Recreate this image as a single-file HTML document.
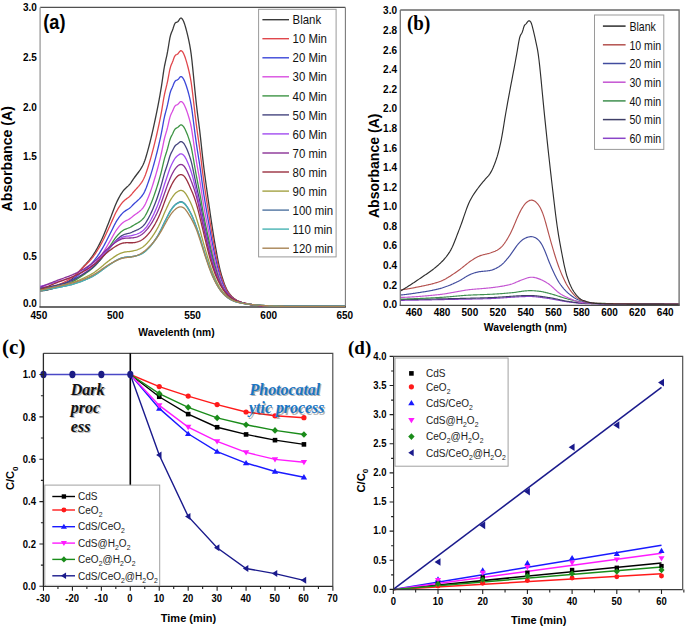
<!DOCTYPE html>
<html><head><meta charset="utf-8"><style>
html,body{margin:0;padding:0;background:#fff;}
svg{display:block;}
</style></head><body>
<svg width="685" height="628" viewBox="0 0 685 628">
<rect width="685" height="628" fill="#fff"/>
<rect x="40.1" y="7.4" width="305.29999999999995" height="299.6" fill="#fff"/>
<path d="M40.1 7.4H345.4" stroke="#505050" stroke-width="1.4" fill="none"/>
<path d="M345.4 7.4V307.0" stroke="#7a7a7a" stroke-width="1.1" fill="none"/>
<path d="M40.1 7.4V307.0" stroke="#a8a8a8" stroke-width="1.5" fill="none"/>
<path d="M39.4 307.0H345.9" stroke="#3a3a3a" stroke-width="1.6" fill="none"/>
<path d="M40.40 291.00L41.16 290.95L41.92 290.88L42.68 290.79L43.45 290.69L44.21 290.58L44.97 290.45L45.73 290.31L46.49 290.16L47.25 290.00L48.02 289.83L48.78 289.65L49.54 289.46L50.30 289.27L51.06 289.06L51.82 288.85L52.58 288.64L53.35 288.42L54.11 288.19L54.87 287.96L55.63 287.73L56.39 287.49L57.15 287.23L57.91 286.95L58.68 286.65L59.44 286.34L60.20 286.01L60.96 285.66L61.72 285.30L62.48 284.92L63.24 284.52L64.01 284.11L64.77 283.69L65.53 283.25L66.29 282.79L67.05 282.33L67.81 281.85L68.58 281.35L69.34 280.84L70.10 280.32L70.86 279.78L71.62 279.21L72.38 278.58L73.14 277.91L73.91 277.20L74.67 276.44L75.43 275.65L76.19 274.83L76.95 273.99L77.71 273.14L78.47 272.27L79.24 271.40L80.00 270.53L80.76 269.66L81.52 268.81L82.28 267.96L83.04 267.13L83.81 266.31L84.57 265.49L85.33 264.66L86.09 263.83L86.85 262.98L87.61 262.12L88.37 261.24L89.14 260.34L89.90 259.41L90.66 258.44L91.42 257.44L92.18 256.40L92.94 255.31L93.70 254.17L94.47 252.97L95.23 251.73L95.99 250.44L96.75 249.10L97.51 247.73L98.27 246.31L99.04 244.86L99.80 243.37L100.56 241.85L101.32 240.29L102.08 238.68L102.84 236.99L103.60 235.25L104.37 233.44L105.13 231.58L105.89 229.69L106.65 227.77L107.41 225.84L108.17 223.90L108.94 221.97L109.70 220.05L110.46 218.10L111.22 216.12L111.98 214.08L112.74 212.03L113.50 209.98L114.27 207.96L115.03 206.02L115.79 204.18L116.55 202.46L117.31 200.86L118.07 199.34L118.83 197.90L119.60 196.51L120.36 195.19L121.12 193.93L121.88 192.76L122.64 191.67L123.40 190.67L124.16 189.77L124.93 188.96L125.69 188.22L126.45 187.52L127.21 186.83L127.97 186.13L128.73 185.38L129.50 184.55L130.26 183.63L131.02 182.59L131.78 181.47L132.54 180.32L133.30 179.17L134.06 178.06L134.83 177.00L135.59 175.99L136.35 174.99L137.11 174.01L137.87 173.02L138.63 172.00L139.39 170.95L140.16 169.83L140.92 168.65L141.68 167.38L142.44 166.00L143.20 164.47L143.96 162.74L144.73 160.74L145.49 158.47L146.25 155.98L147.01 153.34L147.77 150.62L148.53 147.83L149.29 144.98L150.06 142.02L150.82 138.94L151.58 135.75L152.34 132.46L153.10 129.07L153.86 125.61L154.62 122.09L155.39 118.51L156.15 114.86L156.91 111.13L157.67 107.29L158.43 103.35L159.19 99.27L159.96 95.05L160.72 90.66L161.48 86.02L162.24 80.99L163.00 75.62L163.76 70.44L164.52 66.00L165.29 62.29L166.05 58.95L166.81 55.55L167.57 51.70L168.33 47.24L169.09 42.51L169.85 38.20L170.62 34.97L171.38 32.82L172.14 31.07L172.90 29.01L173.66 26.63L174.42 24.45L175.19 23.02L175.95 22.43L176.71 22.25L177.47 22.00L178.23 21.31L178.99 20.16L179.75 18.91L180.52 18.10L181.28 18.03L182.04 18.65L182.80 19.76L183.56 21.29L184.32 23.27L185.09 25.65L185.85 28.27L186.61 31.08L187.37 34.11L188.13 37.38L188.89 40.90L189.65 44.73L190.42 49.05L191.18 54.21L191.94 60.52L192.70 67.82L193.46 75.51L194.22 83.25L194.98 90.92L195.75 98.33L196.51 105.27L197.27 111.66L198.03 117.61L198.79 123.42L199.55 129.41L200.31 135.88L201.08 142.89L201.84 150.13L202.60 157.13L203.36 163.65L204.12 169.78L204.88 175.62L205.65 181.27L206.41 186.77L207.17 192.18L207.93 197.54L208.69 202.88L209.45 208.20L210.21 213.50L210.98 218.74L211.74 223.88L212.50 228.88L213.26 233.72L214.02 238.36L214.78 242.82L215.54 247.16L216.31 251.42L217.07 255.57L217.83 259.56L218.59 263.34L219.35 266.85L220.11 270.05L220.88 272.93L221.64 275.57L222.40 278.05L223.16 280.40L223.92 282.61L224.68 284.68L225.44 286.58L226.21 288.30L226.97 289.82L227.73 291.15L228.49 292.31L229.25 293.36L230.01 294.33L230.78 295.24L231.54 296.09L232.30 296.87L233.06 297.58L233.82 298.24L234.58 298.83L235.34 299.36L236.11 299.84L236.87 300.27L237.63 300.66L238.39 301.02L239.15 301.36L239.91 301.67L240.67 301.97L241.44 302.25L242.20 302.51L242.96 302.75L243.72 302.98L244.48 303.20L245.24 303.41L246.00 303.60L246.77 303.80L247.53 303.98L248.29 304.16L249.05 304.33L249.81 304.49L250.57 304.64L251.34 304.77L252.10 304.89L252.86 305.00L253.62 305.09L254.38 305.17L255.14 305.25L255.90 305.32L256.67 305.40L257.43 305.47L258.19 305.53L258.95 305.60L259.71 305.66L260.47 305.72L261.23 305.78L262.00 305.83L262.76 305.87L263.52 305.92L264.28 305.96L265.04 305.99L265.80 306.02L266.57 306.04L267.33 306.06L268.09 306.08L268.85 306.09L269.61 306.09L270.37 306.10L271.13 306.10L271.90 306.11L272.66 306.11L273.42 306.12L274.18 306.12L274.94 306.12L275.70 306.13L276.46 306.13L277.23 306.14L277.99 306.14L278.75 306.14L279.51 306.15L280.27 306.15L281.03 306.16L281.80 306.16L282.56 306.16L283.32 306.17L284.08 306.17L284.84 306.17L285.60 306.18L286.36 306.18L287.13 306.18L287.89 306.19L288.65 306.19L289.41 306.19L290.17 306.20L290.93 306.20L291.69 306.20L292.46 306.20L293.22 306.21L293.98 306.21L294.74 306.21L295.50 306.21L296.26 306.22L297.03 306.22L297.79 306.22L298.55 306.22L299.31 306.23L300.07 306.23L300.83 306.23L301.59 306.23L302.36 306.24L303.12 306.24L303.88 306.24L304.64 306.24L305.40 306.24L306.16 306.25L306.92 306.25L307.69 306.25L308.45 306.25L309.21 306.25L309.97 306.25L310.73 306.26L311.49 306.26L312.26 306.26L313.02 306.26L313.78 306.26L314.54 306.26L315.30 306.26L316.06 306.27L316.82 306.27L317.59 306.27L318.35 306.27L319.11 306.27L319.87 306.27L320.63 306.27L321.39 306.27L322.15 306.27L322.92 306.27L323.68 306.28L324.44 306.28L325.20 306.28L325.96 306.28L326.72 306.28L327.49 306.28L328.25 306.28L329.01 306.28L329.77 306.28L330.53 306.28L331.29 306.28L332.05 306.28L332.82 306.28L333.58 306.28L334.34 306.28L335.10 306.28L335.86 306.28L336.62 306.28L337.38 306.29L338.15 306.29L338.91 306.29L339.67 306.29L340.43 306.29L341.19 306.29L341.95 306.29L342.72 306.29L343.48 306.29L344.24 306.29L345.00 306.29" stroke="#3a3a3a" stroke-width="1.3" fill="none" stroke-linejoin="round"/>
<path d="M40.40 288.73L41.16 288.66L41.92 288.57L42.68 288.48L43.45 288.37L44.21 288.25L44.97 288.12L45.73 287.98L46.49 287.83L47.25 287.67L48.02 287.50L48.78 287.33L49.54 287.15L50.30 286.96L51.06 286.76L51.82 286.56L52.58 286.36L53.35 286.15L54.11 285.94L54.87 285.73L55.63 285.51L56.39 285.28L57.15 285.04L57.91 284.78L58.68 284.52L59.44 284.23L60.20 283.94L60.96 283.63L61.72 283.31L62.48 282.97L63.24 282.63L64.01 282.27L64.77 281.90L65.53 281.51L66.29 281.12L67.05 280.71L67.81 280.29L68.58 279.86L69.34 279.42L70.10 278.96L70.86 278.49L71.62 277.99L72.38 277.45L73.14 276.87L73.91 276.25L74.67 275.60L75.43 274.93L76.19 274.22L76.95 273.50L77.71 272.76L78.47 272.01L79.24 271.26L80.00 270.50L80.76 269.75L81.52 269.00L82.28 268.26L83.04 267.53L83.81 266.80L84.57 266.07L85.33 265.33L86.09 264.59L86.85 263.83L87.61 263.07L88.37 262.28L89.14 261.47L89.90 260.64L90.66 259.78L91.42 258.89L92.18 257.96L92.94 256.99L93.70 255.97L94.47 254.91L95.23 253.81L95.99 252.66L96.75 251.47L97.51 250.25L98.27 248.99L99.04 247.70L99.80 246.38L100.56 245.03L101.32 243.65L102.08 242.23L102.84 240.75L103.60 239.23L104.37 237.65L105.13 236.05L105.89 234.42L106.65 232.77L107.41 231.11L108.17 229.45L108.94 227.81L109.70 226.16L110.46 224.51L111.22 222.83L111.98 221.12L112.74 219.38L113.50 217.66L114.27 215.96L115.03 214.33L115.79 212.77L116.55 211.31L117.31 209.96L118.07 208.68L118.83 207.45L119.60 206.28L120.36 205.17L121.12 204.12L121.88 203.14L122.64 202.24L123.40 201.42L124.16 200.68L124.93 200.02L125.69 199.42L126.45 198.86L127.21 198.32L127.97 197.76L128.73 197.17L129.50 196.52L130.26 195.79L131.02 194.97L131.78 194.09L132.54 193.16L133.30 192.24L134.06 191.35L134.83 190.48L135.59 189.65L136.35 188.83L137.11 188.00L137.87 187.17L138.63 186.31L139.39 185.40L140.16 184.45L140.92 183.43L141.68 182.32L142.44 181.12L143.20 179.80L143.96 178.30L144.73 176.58L145.49 174.64L146.25 172.52L147.01 170.26L147.77 167.93L148.53 165.54L149.29 163.09L150.06 160.54L150.82 157.89L151.58 155.14L152.34 152.29L153.10 149.37L153.86 146.37L154.62 143.32L155.39 140.20L156.15 137.03L156.91 133.77L157.67 130.42L158.43 126.96L159.19 123.39L159.96 119.68L160.72 115.83L161.48 111.76L162.24 107.38L163.00 102.72L163.76 98.20L164.52 94.26L165.29 90.90L166.05 87.83L166.81 84.72L167.57 81.28L168.33 77.36L169.09 73.25L169.85 69.49L170.62 66.58L171.38 64.56L172.14 62.86L172.90 60.95L173.66 58.80L174.42 56.83L175.19 55.49L175.95 54.81L176.71 54.49L177.47 54.14L178.23 53.48L178.99 52.47L179.75 51.42L180.52 50.74L181.28 50.68L182.04 51.21L182.80 52.17L183.56 53.49L184.32 55.22L185.09 57.30L185.85 59.62L186.61 62.12L187.37 64.82L188.13 67.74L188.89 70.86L189.65 74.25L190.42 78.03L191.18 82.48L191.94 87.85L192.70 94.01L193.46 100.50L194.22 107.05L194.98 113.57L195.75 119.93L196.51 125.95L197.27 131.56L198.03 136.87L198.79 142.08L199.55 147.47L200.31 153.25L201.08 159.46L201.84 165.86L202.60 172.07L203.36 177.90L204.12 183.41L204.88 188.70L205.65 193.83L206.41 198.83L207.17 203.74L207.93 208.60L208.69 213.43L209.45 218.24L210.21 223.00L210.98 227.68L211.74 232.27L212.50 236.72L213.26 241.02L214.02 245.14L214.78 249.10L215.54 252.95L216.31 256.71L217.07 260.36L217.83 263.86L218.59 267.18L219.35 270.27L220.11 273.09L220.88 275.65L221.64 278.00L222.40 280.21L223.16 282.30L223.92 284.27L224.68 286.11L225.44 287.81L226.21 289.35L226.97 290.73L227.73 291.94L228.49 293.01L229.25 293.98L230.01 294.89L230.78 295.73L231.54 296.52L232.30 297.24L233.06 297.91L233.82 298.52L234.58 299.07L235.34 299.57L236.11 300.02L236.87 300.42L237.63 300.79L238.39 301.13L239.15 301.45L239.91 301.75L240.67 302.03L241.44 302.29L242.20 302.54L242.96 302.77L243.72 302.99L244.48 303.19L245.24 303.39L246.00 303.58L246.77 303.76L247.53 303.94L248.29 304.11L249.05 304.27L249.81 304.42L250.57 304.57L251.34 304.70L252.10 304.82L252.86 304.93L253.62 305.03L254.38 305.11L255.14 305.20L255.90 305.28L256.67 305.35L257.43 305.43L258.19 305.50L258.95 305.57L259.71 305.63L260.47 305.69L261.23 305.75L262.00 305.81L262.76 305.86L263.52 305.90L264.28 305.95L265.04 305.99L265.80 306.02L266.57 306.06L267.33 306.08L268.09 306.10L268.85 306.12L269.61 306.14L270.37 306.15L271.13 306.17L271.90 306.18L272.66 306.20L273.42 306.21L274.18 306.22L274.94 306.23L275.70 306.24L276.46 306.25L277.23 306.26L277.99 306.27L278.75 306.28L279.51 306.29L280.27 306.29L281.03 306.29L281.80 306.29L282.56 306.29L283.32 306.29L284.08 306.29L284.84 306.29L285.60 306.29L286.36 306.29L287.13 306.29L287.89 306.29L288.65 306.29L289.41 306.29L290.17 306.29L290.93 306.29L291.69 306.29L292.46 306.29L293.22 306.29L293.98 306.29L294.74 306.29L295.50 306.29L296.26 306.29L297.03 306.29L297.79 306.29L298.55 306.29L299.31 306.29L300.07 306.29L300.83 306.29L301.59 306.29L302.36 306.29L303.12 306.29L303.88 306.29L304.64 306.29L305.40 306.29L306.16 306.29L306.92 306.29L307.69 306.29L308.45 306.29L309.21 306.29L309.97 306.29L310.73 306.29L311.49 306.29L312.26 306.29L313.02 306.29L313.78 306.29L314.54 306.29L315.30 306.29L316.06 306.29L316.82 306.29L317.59 306.29L318.35 306.29L319.11 306.29L319.87 306.29L320.63 306.29L321.39 306.29L322.15 306.29L322.92 306.29L323.68 306.29L324.44 306.29L325.20 306.29L325.96 306.29L326.72 306.29L327.49 306.29L328.25 306.29L329.01 306.29L329.77 306.29L330.53 306.29L331.29 306.29L332.05 306.29L332.82 306.29L333.58 306.29L334.34 306.29L335.10 306.29L335.86 306.29L336.62 306.29L337.38 306.29L338.15 306.29L338.91 306.29L339.67 306.29L340.43 306.29L341.19 306.29L341.95 306.29L342.72 306.29L343.48 306.29L344.24 306.29L345.00 306.29" stroke="#e0474c" stroke-width="1.3" fill="none" stroke-linejoin="round"/>
<path d="M40.40 287.24L41.16 287.27L41.92 287.29L42.68 287.30L43.45 287.29L44.21 287.27L44.97 287.24L45.73 287.20L46.49 287.15L47.25 287.09L48.02 287.01L48.78 286.93L49.54 286.85L50.30 286.75L51.06 286.65L51.82 286.54L52.58 286.42L53.35 286.30L54.11 286.18L54.87 286.05L55.63 285.91L56.39 285.77L57.15 285.61L57.91 285.44L58.68 285.26L59.44 285.06L60.20 284.84L60.96 284.62L61.72 284.38L62.48 284.13L63.24 283.86L64.01 283.58L64.77 283.29L65.53 282.99L66.29 282.68L67.05 282.35L67.81 282.01L68.58 281.67L69.34 281.31L70.10 280.94L70.86 280.55L71.62 280.13L72.38 279.68L73.14 279.19L73.91 278.67L74.67 278.11L75.43 277.53L76.19 276.92L76.95 276.30L77.71 275.66L78.47 275.01L79.24 274.36L80.00 273.71L80.76 273.05L81.52 272.41L82.28 271.77L83.04 271.13L83.81 270.50L84.57 269.87L85.33 269.24L86.09 268.59L86.85 267.94L87.61 267.27L88.37 266.59L89.14 265.89L89.90 265.17L90.66 264.42L91.42 263.64L92.18 262.82L92.94 261.97L93.70 261.08L94.47 260.15L95.23 259.17L95.99 258.16L96.75 257.11L97.51 256.03L98.27 254.92L99.04 253.77L99.80 252.60L100.56 251.41L101.32 250.18L102.08 248.92L102.84 247.61L103.60 246.24L104.37 244.84L105.13 243.40L105.89 241.94L106.65 240.46L107.41 238.97L108.17 237.48L108.94 236.00L109.70 234.52L110.46 233.03L111.22 231.52L111.98 229.97L112.74 228.41L113.50 226.85L114.27 225.32L115.03 223.85L115.79 222.45L116.55 221.15L117.31 219.93L118.07 218.79L118.83 217.70L119.60 216.65L120.36 215.67L121.12 214.74L121.88 213.87L122.64 213.08L123.40 212.36L124.16 211.72L124.93 211.15L125.69 210.64L126.45 210.17L127.21 209.71L127.97 209.24L128.73 208.75L129.50 208.20L130.26 207.57L131.02 206.87L131.78 206.11L132.54 205.32L133.30 204.53L134.06 203.78L134.83 203.06L135.59 202.36L136.35 201.68L137.11 201.00L137.87 200.31L138.63 199.60L139.39 198.86L140.16 198.06L140.92 197.21L141.68 196.28L142.44 195.26L143.20 194.13L143.96 192.83L144.73 191.33L145.49 189.62L146.25 187.74L147.01 185.73L147.77 183.65L148.53 181.52L149.29 179.32L150.06 177.03L150.82 174.64L151.58 172.16L152.34 169.58L153.10 166.93L153.86 164.21L154.62 161.43L155.39 158.59L156.15 155.69L156.91 152.72L157.67 149.65L158.43 146.49L159.19 143.22L159.96 139.83L160.72 136.30L161.48 132.58L162.24 128.56L163.00 124.28L163.76 120.14L164.52 116.53L165.29 113.47L166.05 110.67L166.81 107.84L167.57 104.68L168.33 101.10L169.09 97.31L169.85 93.86L170.62 91.20L171.38 89.36L172.14 87.81L172.90 86.06L173.66 84.09L174.42 82.29L175.19 81.06L175.95 80.45L176.71 80.16L177.47 79.85L178.23 79.23L178.99 78.29L179.75 77.30L180.52 76.66L181.28 76.58L182.04 77.04L182.80 77.89L183.56 79.06L184.32 80.61L185.09 82.48L185.85 84.55L186.61 86.78L187.37 89.19L188.13 91.80L188.89 94.60L189.65 97.64L190.42 101.05L191.18 105.07L191.94 109.94L192.70 115.56L193.46 121.47L194.22 127.43L194.98 133.36L195.75 139.12L196.51 144.56L197.27 149.62L198.03 154.38L198.79 159.05L199.55 163.87L200.31 169.05L201.08 174.63L201.84 180.38L202.60 185.96L203.36 191.19L204.12 196.12L204.88 200.84L205.65 205.42L206.41 209.88L207.17 214.26L207.93 218.60L208.69 222.92L209.45 227.22L210.21 231.48L210.98 235.68L211.74 239.79L212.50 243.79L213.26 247.64L214.02 251.35L214.78 254.90L215.54 258.36L216.31 261.74L217.07 265.03L217.83 268.19L218.59 271.18L219.35 273.96L220.11 276.50L220.88 278.79L221.64 280.90L222.40 282.88L223.16 284.76L223.92 286.53L224.68 288.18L225.44 289.70L226.21 291.09L226.97 292.32L227.73 293.40L228.49 294.35L229.25 295.21L230.01 296.01L230.78 296.76L231.54 297.46L232.30 298.10L233.06 298.70L233.82 299.24L234.58 299.73L235.34 300.17L236.11 300.56L236.87 300.92L237.63 301.25L238.39 301.55L239.15 301.83L239.91 302.09L240.67 302.34L241.44 302.57L242.20 302.79L242.96 302.99L243.72 303.19L244.48 303.37L245.24 303.54L246.00 303.71L246.77 303.87L247.53 304.02L248.29 304.17L249.05 304.32L249.81 304.45L250.57 304.58L251.34 304.70L252.10 304.80L252.86 304.90L253.62 304.98L254.38 305.05L255.14 305.12L255.90 305.19L256.67 305.26L257.43 305.32L258.19 305.38L258.95 305.44L259.71 305.50L260.47 305.55L261.23 305.60L262.00 305.65L262.76 305.69L263.52 305.73L264.28 305.77L265.04 305.80L265.80 305.83L266.57 305.86L267.33 305.88L268.09 305.90L268.85 305.91L269.61 305.92L270.37 305.93L271.13 305.94L271.90 305.95L272.66 305.96L273.42 305.97L274.18 305.98L274.94 305.99L275.70 306.00L276.46 306.01L277.23 306.02L277.99 306.02L278.75 306.03L279.51 306.03L280.27 306.04L281.03 306.05L281.80 306.05L282.56 306.05L283.32 306.06L284.08 306.06L284.84 306.06L285.60 306.07L286.36 306.07L287.13 306.07L287.89 306.08L288.65 306.08L289.41 306.08L290.17 306.08L290.93 306.08L291.69 306.09L292.46 306.09L293.22 306.09L293.98 306.09L294.74 306.09L295.50 306.10L296.26 306.10L297.03 306.10L297.79 306.10L298.55 306.10L299.31 306.11L300.07 306.11L300.83 306.11L301.59 306.11L302.36 306.11L303.12 306.11L303.88 306.12L304.64 306.12L305.40 306.12L306.16 306.12L306.92 306.12L307.69 306.12L308.45 306.12L309.21 306.12L309.97 306.13L310.73 306.13L311.49 306.13L312.26 306.13L313.02 306.13L313.78 306.13L314.54 306.13L315.30 306.13L316.06 306.13L316.82 306.14L317.59 306.14L318.35 306.14L319.11 306.14L319.87 306.14L320.63 306.14L321.39 306.14L322.15 306.14L322.92 306.14L323.68 306.14L324.44 306.14L325.20 306.14L325.96 306.14L326.72 306.14L327.49 306.15L328.25 306.15L329.01 306.15L329.77 306.15L330.53 306.15L331.29 306.15L332.05 306.15L332.82 306.15L333.58 306.15L334.34 306.15L335.10 306.15L335.86 306.15L336.62 306.15L337.38 306.15L338.15 306.15L338.91 306.15L339.67 306.15L340.43 306.15L341.19 306.15L341.95 306.15L342.72 306.15L343.48 306.15L344.24 306.15L345.00 306.15" stroke="#3b47d8" stroke-width="1.3" fill="none" stroke-linejoin="round"/>
<path d="M40.40 286.74L41.16 286.82L41.92 286.88L42.68 286.93L43.45 286.96L44.21 286.99L44.97 287.00L45.73 287.00L46.49 286.99L47.25 286.97L48.02 286.95L48.78 286.91L49.54 286.87L50.30 286.82L51.06 286.76L51.82 286.69L52.58 286.62L53.35 286.55L54.11 286.47L54.87 286.38L55.63 286.29L56.39 286.19L57.15 286.08L57.91 285.95L58.68 285.82L59.44 285.67L60.20 285.50L60.96 285.33L61.72 285.14L62.48 284.94L63.24 284.73L64.01 284.50L64.77 284.27L65.53 284.02L66.29 283.76L67.05 283.50L67.81 283.22L68.58 282.93L69.34 282.63L70.10 282.32L70.86 281.99L71.62 281.64L72.38 281.26L73.14 280.84L73.91 280.39L74.67 279.91L75.43 279.41L76.19 278.89L76.95 278.35L77.71 277.80L78.47 277.24L79.24 276.68L80.00 276.11L80.76 275.54L81.52 274.98L82.28 274.42L83.04 273.87L83.81 273.32L84.57 272.77L85.33 272.22L86.09 271.66L86.85 271.09L87.61 270.51L88.37 269.91L89.14 269.29L89.90 268.66L90.66 268.00L91.42 267.32L92.18 266.60L92.94 265.85L93.70 265.07L94.47 264.24L95.23 263.38L95.99 262.49L96.75 261.57L97.51 260.61L98.27 259.63L99.04 258.61L99.80 257.58L100.56 256.52L101.32 255.44L102.08 254.32L102.84 253.16L103.60 251.95L104.37 250.71L105.13 249.44L105.89 248.15L106.65 246.84L107.41 245.53L108.17 244.22L108.94 242.91L109.70 241.61L110.46 240.30L111.22 238.96L111.98 237.60L112.74 236.22L113.50 234.85L114.27 233.51L115.03 232.22L115.79 230.99L116.55 229.85L117.31 228.79L118.07 227.79L118.83 226.84L119.60 225.94L120.36 225.08L121.12 224.28L121.88 223.54L122.64 222.87L123.40 222.26L124.16 221.72L124.93 221.26L125.69 220.84L126.45 220.47L127.21 220.10L127.97 219.74L128.73 219.34L129.50 218.91L130.26 218.41L131.02 217.85L131.78 217.24L132.54 216.60L133.30 215.96L134.06 215.36L134.83 214.78L135.59 214.23L136.35 213.70L137.11 213.16L137.87 212.62L138.63 212.06L139.39 211.46L140.16 210.82L140.92 210.12L141.68 209.36L142.44 208.51L143.20 207.56L143.96 206.47L144.73 205.18L145.49 203.71L146.25 202.08L147.01 200.34L147.77 198.52L148.53 196.66L149.29 194.73L150.06 192.71L150.82 190.60L151.58 188.39L152.34 186.10L153.10 183.73L153.86 181.30L154.62 178.81L155.39 176.26L156.15 173.66L156.91 170.97L157.67 168.21L158.43 165.35L159.19 162.39L159.96 159.32L160.72 156.13L161.48 152.76L162.24 149.12L163.00 145.26L163.76 141.51L164.52 138.23L165.29 135.43L166.05 132.87L166.81 130.27L167.57 127.40L168.33 124.14L169.09 120.72L169.85 117.59L170.62 115.16L171.38 113.45L172.14 112.01L172.90 110.40L173.66 108.59L174.42 106.94L175.19 105.79L175.95 105.19L176.71 104.89L177.47 104.56L178.23 103.98L178.99 103.11L179.75 102.21L180.52 101.61L181.28 101.53L182.04 101.91L182.80 102.65L183.56 103.68L184.32 105.04L185.09 106.69L185.85 108.52L186.61 110.50L187.37 112.64L188.13 114.96L188.89 117.45L189.65 120.15L190.42 123.18L191.18 126.75L191.94 131.07L192.70 136.04L193.46 141.28L194.22 146.57L194.98 151.83L195.75 156.95L196.51 161.79L197.27 166.29L198.03 170.53L198.79 174.70L199.55 179.00L200.31 183.62L201.08 188.59L201.84 193.72L202.60 198.69L203.36 203.36L204.12 207.76L204.88 211.98L205.65 216.06L206.41 220.05L207.17 223.97L207.93 227.85L208.69 231.70L209.45 235.54L210.21 239.34L210.98 243.09L211.74 246.76L212.50 250.32L213.26 253.76L214.02 257.06L214.78 260.23L215.54 263.31L216.31 266.33L217.07 269.25L217.83 272.07L218.59 274.73L219.35 277.21L220.11 279.47L220.88 281.52L221.64 283.40L222.40 285.16L223.16 286.84L223.92 288.42L224.68 289.89L225.44 291.25L226.21 292.48L226.97 293.58L227.73 294.55L228.49 295.40L229.25 296.17L230.01 296.89L230.78 297.56L231.54 298.18L232.30 298.76L233.06 299.29L233.82 299.78L234.58 300.22L235.34 300.61L236.11 300.97L236.87 301.29L237.63 301.58L238.39 301.85L239.15 302.10L239.91 302.34L240.67 302.56L241.44 302.77L242.20 302.96L242.96 303.15L243.72 303.32L244.48 303.48L245.24 303.64L246.00 303.79L246.77 303.93L247.53 304.07L248.29 304.21L249.05 304.34L249.81 304.46L250.57 304.57L251.34 304.68L252.10 304.77L252.86 304.86L253.62 304.93L254.38 305.00L255.14 305.06L255.90 305.13L256.67 305.19L257.43 305.24L258.19 305.30L258.95 305.35L259.71 305.40L260.47 305.45L261.23 305.50L262.00 305.54L262.76 305.58L263.52 305.62L264.28 305.65L265.04 305.68L265.80 305.71L266.57 305.73L267.33 305.75L268.09 305.77L268.85 305.78L269.61 305.80L270.37 305.81L271.13 305.82L271.90 305.83L272.66 305.84L273.42 305.84L274.18 305.85L274.94 305.86L275.70 305.87L276.46 305.88L277.23 305.88L277.99 305.89L278.75 305.90L279.51 305.90L280.27 305.91L281.03 305.91L281.80 305.92L282.56 305.92L283.32 305.93L284.08 305.93L284.84 305.93L285.60 305.93L286.36 305.94L287.13 305.94L287.89 305.94L288.65 305.94L289.41 305.95L290.17 305.95L290.93 305.95L291.69 305.95L292.46 305.95L293.22 305.95L293.98 305.96L294.74 305.96L295.50 305.96L296.26 305.96L297.03 305.96L297.79 305.97L298.55 305.97L299.31 305.97L300.07 305.97L300.83 305.97L301.59 305.97L302.36 305.97L303.12 305.98L303.88 305.98L304.64 305.98L305.40 305.98L306.16 305.98L306.92 305.98L307.69 305.98L308.45 305.98L309.21 305.99L309.97 305.99L310.73 305.99L311.49 305.99L312.26 305.99L313.02 305.99L313.78 305.99L314.54 305.99L315.30 305.99L316.06 305.99L316.82 305.99L317.59 306.00L318.35 306.00L319.11 306.00L319.87 306.00L320.63 306.00L321.39 306.00L322.15 306.00L322.92 306.00L323.68 306.00L324.44 306.00L325.20 306.00L325.96 306.00L326.72 306.00L327.49 306.00L328.25 306.00L329.01 306.00L329.77 306.00L330.53 306.01L331.29 306.01L332.05 306.01L332.82 306.01L333.58 306.01L334.34 306.01L335.10 306.01L335.86 306.01L336.62 306.01L337.38 306.01L338.15 306.01L338.91 306.01L339.67 306.01L340.43 306.01L341.19 306.01L341.95 306.01L342.72 306.01L343.48 306.01L344.24 306.01L345.00 306.01" stroke="#d84fe0" stroke-width="1.3" fill="none" stroke-linejoin="round"/>
<path d="M40.40 288.73L41.16 288.71L41.92 288.68L42.68 288.64L43.45 288.59L44.21 288.53L44.97 288.47L45.73 288.40L46.49 288.32L47.25 288.24L48.02 288.14L48.78 288.05L49.54 287.94L50.30 287.83L51.06 287.72L51.82 287.60L52.58 287.48L53.35 287.36L54.11 287.23L54.87 287.10L55.63 286.96L56.39 286.82L57.15 286.67L57.91 286.51L58.68 286.35L59.44 286.17L60.20 285.99L60.96 285.79L61.72 285.59L62.48 285.38L63.24 285.16L64.01 284.93L64.77 284.69L65.53 284.45L66.29 284.19L67.05 283.93L67.81 283.66L68.58 283.38L69.34 283.09L70.10 282.79L70.86 282.48L71.62 282.15L72.38 281.79L73.14 281.41L73.91 281.00L74.67 280.57L75.43 280.12L76.19 279.65L76.95 279.17L77.71 278.67L78.47 278.17L79.24 277.66L80.00 277.15L80.76 276.64L81.52 276.13L82.28 275.62L83.04 275.12L83.81 274.61L84.57 274.10L85.33 273.59L86.09 273.07L86.85 272.55L87.61 272.01L88.37 271.46L89.14 270.89L89.90 270.31L90.66 269.71L91.42 269.08L92.18 268.43L92.94 267.75L93.70 267.04L94.47 266.29L95.23 265.51L95.99 264.71L96.75 263.87L97.51 263.01L98.27 262.12L99.04 261.21L99.80 260.28L100.56 259.33L101.32 258.37L102.08 257.37L102.84 256.34L103.60 255.28L104.37 254.20L105.13 253.09L105.89 251.97L106.65 250.85L107.41 249.72L108.17 248.59L108.94 247.48L109.70 246.37L110.46 245.26L111.22 244.14L111.98 242.99L112.74 241.84L113.50 240.69L114.27 239.57L115.03 238.48L115.79 237.45L116.55 236.49L117.31 235.59L118.07 234.75L118.83 233.95L119.60 233.20L120.36 232.49L121.12 231.82L121.88 231.22L122.64 230.67L123.40 230.18L124.16 229.75L124.93 229.38L125.69 229.07L126.45 228.78L127.21 228.51L127.97 228.24L128.73 227.96L129.50 227.64L130.26 227.28L131.02 226.86L131.78 226.40L132.54 225.92L133.30 225.44L134.06 224.98L134.83 224.54L135.59 224.11L136.35 223.68L137.11 223.26L137.87 222.82L138.63 222.35L139.39 221.86L140.16 221.32L140.92 220.74L141.68 220.08L142.44 219.36L143.20 218.55L143.96 217.61L144.73 216.52L145.49 215.28L146.25 213.90L147.01 212.43L147.77 210.89L148.53 209.30L149.29 207.65L150.06 205.93L150.82 204.12L151.58 202.22L152.34 200.25L153.10 198.21L153.86 196.11L154.62 193.95L155.39 191.74L156.15 189.47L156.91 187.12L157.67 184.71L158.43 182.20L159.19 179.60L159.96 176.90L160.72 174.09L161.48 171.13L162.24 167.96L163.00 164.60L163.76 161.33L164.52 158.41L165.29 155.86L166.05 153.49L166.81 151.11L167.57 148.52L168.33 145.66L169.09 142.68L169.85 139.94L170.62 137.75L171.38 136.12L172.14 134.73L172.90 133.21L173.66 131.58L174.42 130.08L175.19 128.98L175.95 128.33L176.71 127.93L177.47 127.53L178.23 126.95L178.99 126.19L179.75 125.43L180.52 124.94L181.28 124.86L182.04 125.18L182.80 125.80L183.56 126.68L184.32 127.86L185.09 129.30L185.85 130.91L186.61 132.67L187.37 134.58L188.13 136.65L188.89 138.86L189.65 141.24L190.42 143.88L191.18 146.94L191.94 150.59L192.70 154.75L193.46 159.12L194.22 163.56L194.98 168.00L195.75 172.36L196.51 176.53L197.27 180.48L198.03 184.26L198.79 188.00L199.55 191.87L200.31 196.00L201.08 200.41L201.84 204.93L202.60 209.34L203.36 213.52L204.12 217.48L204.88 221.30L205.65 225.02L206.41 228.65L207.17 232.22L207.93 235.74L208.69 239.24L209.45 242.70L210.21 246.12L210.98 249.47L211.74 252.75L212.50 255.92L213.26 258.98L214.02 261.91L214.78 264.72L215.54 267.45L216.31 270.10L217.07 272.68L217.83 275.14L218.59 277.48L219.35 279.65L220.11 281.65L220.88 283.46L221.64 285.13L222.40 286.71L223.16 288.19L223.92 289.60L224.68 290.91L225.44 292.12L226.21 293.23L226.97 294.23L227.73 295.11L228.49 295.90L229.25 296.62L230.01 297.29L230.78 297.91L231.54 298.49L232.30 299.03L233.06 299.53L233.82 299.98L234.58 300.39L235.34 300.77L236.11 301.10L236.87 301.40L237.63 301.68L238.39 301.93L239.15 302.17L239.91 302.40L240.67 302.61L241.44 302.80L242.20 302.99L242.96 303.16L243.72 303.33L244.48 303.48L245.24 303.63L246.00 303.78L246.77 303.91L247.53 304.05L248.29 304.18L249.05 304.30L249.81 304.42L250.57 304.53L251.34 304.63L252.10 304.73L252.86 304.81L253.62 304.89L254.38 304.96L255.14 305.03L255.90 305.10L256.67 305.16L257.43 305.22L258.19 305.28L258.95 305.34L259.71 305.39L260.47 305.44L261.23 305.49L262.00 305.53L262.76 305.58L263.52 305.62L264.28 305.65L265.04 305.69L265.80 305.72L266.57 305.75L267.33 305.77L268.09 305.80L268.85 305.82L269.61 305.84L270.37 305.85L271.13 305.87L271.90 305.89L272.66 305.90L273.42 305.92L274.18 305.93L274.94 305.95L275.70 305.96L276.46 305.97L277.23 305.98L277.99 305.99L278.75 306.00L279.51 306.01L280.27 306.02L281.03 306.03L281.80 306.03L282.56 306.04L283.32 306.04L284.08 306.05L284.84 306.05L285.60 306.05L286.36 306.05L287.13 306.06L287.89 306.06L288.65 306.06L289.41 306.06L290.17 306.06L290.93 306.06L291.69 306.06L292.46 306.07L293.22 306.07L293.98 306.07L294.74 306.07L295.50 306.07L296.26 306.07L297.03 306.07L297.79 306.08L298.55 306.08L299.31 306.08L300.07 306.08L300.83 306.08L301.59 306.08L302.36 306.08L303.12 306.08L303.88 306.08L304.64 306.09L305.40 306.09L306.16 306.09L306.92 306.09L307.69 306.09L308.45 306.09L309.21 306.09L309.97 306.09L310.73 306.09L311.49 306.09L312.26 306.09L313.02 306.09L313.78 306.10L314.54 306.10L315.30 306.10L316.06 306.10L316.82 306.10L317.59 306.10L318.35 306.10L319.11 306.10L319.87 306.10L320.63 306.10L321.39 306.10L322.15 306.10L322.92 306.10L323.68 306.10L324.44 306.10L325.20 306.10L325.96 306.10L326.72 306.10L327.49 306.10L328.25 306.10L329.01 306.11L329.77 306.11L330.53 306.11L331.29 306.11L332.05 306.11L332.82 306.11L333.58 306.11L334.34 306.11L335.10 306.11L335.86 306.11L336.62 306.11L337.38 306.11L338.15 306.11L338.91 306.11L339.67 306.11L340.43 306.11L341.19 306.11L341.95 306.11L342.72 306.11L343.48 306.11L344.24 306.11L345.00 306.11" stroke="#3d9444" stroke-width="1.3" fill="none" stroke-linejoin="round"/>
<path d="M40.40 288.23L41.16 288.14L41.92 288.04L42.68 287.94L43.45 287.83L44.21 287.71L44.97 287.59L45.73 287.46L46.49 287.33L47.25 287.19L48.02 287.05L48.78 286.91L49.54 286.76L50.30 286.61L51.06 286.46L51.82 286.30L52.58 286.14L53.35 285.98L54.11 285.81L54.87 285.65L55.63 285.48L56.39 285.31L57.15 285.13L57.91 284.95L58.68 284.76L59.44 284.57L60.20 284.37L60.96 284.17L61.72 283.96L62.48 283.74L63.24 283.52L64.01 283.29L64.77 283.06L65.53 282.82L66.29 282.57L67.05 282.32L67.81 282.06L68.58 281.79L69.34 281.51L70.10 281.23L70.86 280.94L71.62 280.63L72.38 280.30L73.14 279.95L73.91 279.58L74.67 279.19L75.43 278.79L76.19 278.37L76.95 277.94L77.71 277.50L78.47 277.04L79.24 276.59L80.00 276.12L80.76 275.66L81.52 275.19L82.28 274.73L83.04 274.26L83.81 273.79L84.57 273.31L85.33 272.83L86.09 272.34L86.85 271.84L87.61 271.34L88.37 270.82L89.14 270.29L89.90 269.74L90.66 269.18L91.42 268.59L92.18 267.99L92.94 267.36L93.70 266.69L94.47 266.01L95.23 265.29L95.99 264.54L96.75 263.77L97.51 262.97L98.27 262.16L99.04 261.32L99.80 260.46L100.56 259.59L101.32 258.71L102.08 257.81L102.84 256.88L103.60 255.94L104.37 254.98L105.13 254.01L105.89 253.03L106.65 252.06L107.41 251.09L108.17 250.13L108.94 249.18L109.70 248.24L110.46 247.31L111.22 246.37L111.98 245.41L112.74 244.46L113.50 243.51L114.27 242.58L115.03 241.68L115.79 240.83L116.55 240.02L117.31 239.27L118.07 238.57L118.83 237.90L119.60 237.27L120.36 236.69L121.12 236.15L121.88 235.66L122.64 235.22L123.40 234.84L124.16 234.51L124.93 234.24L125.69 234.01L126.45 233.81L127.21 233.63L127.97 233.46L128.73 233.27L129.50 233.07L130.26 232.83L131.02 232.55L131.78 232.24L132.54 231.91L133.30 231.57L134.06 231.24L134.83 230.91L135.59 230.59L136.35 230.26L137.11 229.92L137.87 229.56L138.63 229.17L139.39 228.75L140.16 228.29L140.92 227.78L141.68 227.21L142.44 226.58L143.20 225.86L143.96 225.05L144.73 224.11L145.49 223.05L146.25 221.89L147.01 220.64L147.77 219.33L148.53 217.97L149.29 216.55L150.06 215.07L150.82 213.50L151.58 211.87L152.34 210.16L153.10 208.39L153.86 206.56L154.62 204.67L155.39 202.73L156.15 200.73L156.91 198.66L157.67 196.52L158.43 194.30L159.19 191.98L159.96 189.57L160.72 187.07L161.48 184.43L162.24 181.64L163.00 178.70L163.76 175.81L164.52 173.16L165.29 170.76L166.05 168.51L166.81 166.25L167.57 163.87L168.33 161.31L169.09 158.70L169.85 156.27L170.62 154.25L171.38 152.64L172.14 151.22L172.90 149.75L173.66 148.23L174.42 146.84L175.19 145.75L175.95 145.01L176.71 144.47L177.47 143.96L178.23 143.38L178.99 142.71L179.75 142.08L180.52 141.68L181.28 141.61L182.04 141.88L182.80 142.41L183.56 143.18L184.32 144.22L185.09 145.49L185.85 146.95L186.61 148.56L187.37 150.31L188.13 152.21L188.89 154.22L189.65 156.37L190.42 158.71L191.18 161.35L191.94 164.42L192.70 167.86L193.46 171.47L194.22 175.16L194.98 178.90L195.75 182.62L196.51 186.26L197.27 189.79L198.03 193.25L198.79 196.72L199.55 200.31L200.31 204.11L201.08 208.11L201.84 212.19L202.60 216.20L203.36 220.04L204.12 223.73L204.88 227.31L205.65 230.81L206.41 234.24L207.17 237.61L207.93 240.94L208.69 244.21L209.45 247.44L210.21 250.61L210.98 253.70L211.74 256.71L212.50 259.61L213.26 262.39L214.02 265.06L214.78 267.62L215.54 270.09L216.31 272.49L217.07 274.79L217.83 277.00L218.59 279.08L219.35 281.03L220.11 282.83L220.88 284.47L221.64 286.00L222.40 287.44L223.16 288.80L223.92 290.08L224.68 291.28L225.44 292.40L226.21 293.42L226.97 294.35L227.73 295.19L228.49 295.95L229.25 296.65L230.01 297.30L230.78 297.91L231.54 298.48L232.30 299.01L233.06 299.49L233.82 299.94L234.58 300.34L235.34 300.71L236.11 301.04L236.87 301.34L237.63 301.61L238.39 301.87L239.15 302.11L239.91 302.33L240.67 302.54L241.44 302.73L242.20 302.92L242.96 303.09L243.72 303.26L244.48 303.41L245.24 303.56L246.00 303.71L246.77 303.84L247.53 303.98L248.29 304.11L249.05 304.23L249.81 304.35L250.57 304.47L251.34 304.58L252.10 304.68L252.86 304.77L253.62 304.86L254.38 304.94L255.14 305.02L255.90 305.09L256.67 305.16L257.43 305.23L258.19 305.30L258.95 305.36L259.71 305.42L260.47 305.48L261.23 305.53L262.00 305.58L262.76 305.63L263.52 305.67L264.28 305.72L265.04 305.76L265.80 305.80L266.57 305.83L267.33 305.87L268.09 305.90L268.85 305.93L269.61 305.96L270.37 305.99L271.13 306.01L271.90 306.04L272.66 306.06L273.42 306.09L274.18 306.11L274.94 306.13L275.70 306.15L276.46 306.17L277.23 306.19L277.99 306.20L278.75 306.22L279.51 306.23L280.27 306.24L281.03 306.25L281.80 306.26L282.56 306.27L283.32 306.27L284.08 306.27L284.84 306.28L285.60 306.28L286.36 306.28L287.13 306.28L287.89 306.29L288.65 306.29L289.41 306.29L290.17 306.29L290.93 306.29L291.69 306.29L292.46 306.29L293.22 306.29L293.98 306.29L294.74 306.29L295.50 306.29L296.26 306.29L297.03 306.29L297.79 306.29L298.55 306.29L299.31 306.29L300.07 306.29L300.83 306.29L301.59 306.29L302.36 306.29L303.12 306.29L303.88 306.29L304.64 306.29L305.40 306.29L306.16 306.29L306.92 306.29L307.69 306.29L308.45 306.29L309.21 306.29L309.97 306.29L310.73 306.29L311.49 306.29L312.26 306.29L313.02 306.29L313.78 306.29L314.54 306.29L315.30 306.29L316.06 306.29L316.82 306.29L317.59 306.29L318.35 306.29L319.11 306.29L319.87 306.29L320.63 306.29L321.39 306.29L322.15 306.29L322.92 306.29L323.68 306.29L324.44 306.29L325.20 306.29L325.96 306.29L326.72 306.29L327.49 306.29L328.25 306.29L329.01 306.29L329.77 306.29L330.53 306.29L331.29 306.29L332.05 306.29L332.82 306.29L333.58 306.29L334.34 306.29L335.10 306.29L335.86 306.29L336.62 306.29L337.38 306.29L338.15 306.29L338.91 306.29L339.67 306.29L340.43 306.29L341.19 306.29L341.95 306.29L342.72 306.29L343.48 306.29L344.24 306.29L345.00 306.29" stroke="#45457e" stroke-width="1.3" fill="none" stroke-linejoin="round"/>
<path d="M40.40 286.25L41.16 286.07L41.92 285.89L42.68 285.71L43.45 285.53L44.21 285.34L44.97 285.15L45.73 284.96L46.49 284.76L47.25 284.57L48.02 284.37L48.78 284.17L49.54 283.97L50.30 283.76L51.06 283.56L51.82 283.35L52.58 283.14L53.35 282.93L54.11 282.72L54.87 282.51L55.63 282.30L56.39 282.09L57.15 281.88L57.91 281.67L58.68 281.45L59.44 281.23L60.20 281.02L60.96 280.79L61.72 280.57L62.48 280.35L63.24 280.12L64.01 279.88L64.77 279.65L65.53 279.41L66.29 279.16L67.05 278.91L67.81 278.65L68.58 278.39L69.34 278.12L70.10 277.85L70.86 277.57L71.62 277.27L72.38 276.96L73.14 276.64L73.91 276.30L74.67 275.95L75.43 275.59L76.19 275.21L76.95 274.83L77.71 274.43L78.47 274.02L79.24 273.61L80.00 273.19L80.76 272.76L81.52 272.33L82.28 271.89L83.04 271.44L83.81 270.99L84.57 270.53L85.33 270.07L86.09 269.59L86.85 269.11L87.61 268.62L88.37 268.12L89.14 267.60L89.90 267.07L90.66 266.53L91.42 265.97L92.18 265.39L92.94 264.79L93.70 264.16L94.47 263.51L95.23 262.83L95.99 262.12L96.75 261.39L97.51 260.64L98.27 259.86L99.04 259.07L99.80 258.27L100.56 257.45L101.32 256.63L102.08 255.79L102.84 254.95L103.60 254.10L104.37 253.24L105.13 252.39L105.89 251.55L106.65 250.72L107.41 249.90L108.17 249.09L108.94 248.30L109.70 247.52L110.46 246.76L111.22 245.99L111.98 245.23L112.74 244.47L113.50 243.72L114.27 242.99L115.03 242.27L115.79 241.59L116.55 240.94L117.31 240.33L118.07 239.75L118.83 239.21L119.60 238.71L120.36 238.25L121.12 237.83L121.88 237.46L122.64 237.14L123.40 236.86L124.16 236.64L124.93 236.47L125.69 236.33L126.45 236.22L127.21 236.13L127.97 236.05L128.73 235.98L129.50 235.89L130.26 235.78L131.02 235.65L131.78 235.50L132.54 235.33L133.30 235.14L134.06 234.94L134.83 234.73L135.59 234.50L136.35 234.26L137.11 233.99L137.87 233.70L138.63 233.38L139.39 233.02L140.16 232.62L140.92 232.17L141.68 231.66L142.44 231.08L143.20 230.44L143.96 229.73L144.73 228.92L145.49 228.03L146.25 227.05L147.01 226.01L147.77 224.92L148.53 223.76L149.29 222.56L150.06 221.28L150.82 219.95L151.58 218.54L152.34 217.08L153.10 215.55L153.86 213.96L154.62 212.32L155.39 210.62L156.15 208.86L156.91 207.03L157.67 205.13L158.43 203.14L159.19 201.07L159.96 198.91L160.72 196.66L161.48 194.31L162.24 191.84L163.00 189.28L163.76 186.73L164.52 184.29L165.29 181.98L166.05 179.76L166.81 177.55L167.57 175.31L168.33 173.02L169.09 170.73L169.85 168.58L170.62 166.68L171.38 165.02L172.14 163.51L172.90 162.03L173.66 160.58L174.42 159.25L175.19 158.13L175.95 157.24L176.71 156.51L177.47 155.86L178.23 155.24L178.99 154.64L179.75 154.15L180.52 153.85L181.28 153.81L182.04 154.02L182.80 154.47L183.56 155.14L184.32 156.06L185.09 157.21L185.85 158.56L186.61 160.06L187.37 161.72L188.13 163.49L188.89 165.37L189.65 167.35L190.42 169.44L191.18 171.71L191.94 174.21L192.70 176.94L193.46 179.80L194.22 182.76L194.98 185.81L195.75 188.93L196.51 192.10L197.27 195.30L198.03 198.54L198.79 201.86L199.55 205.30L200.31 208.88L201.08 212.58L201.84 216.34L202.60 220.06L203.36 223.69L204.12 227.23L204.88 230.70L205.65 234.12L206.41 237.48L207.17 240.78L207.93 244.03L208.69 247.21L209.45 250.32L210.21 253.35L210.98 256.28L211.74 259.10L212.50 261.81L213.26 264.41L214.02 266.90L214.78 269.28L215.54 271.56L216.31 273.75L217.07 275.85L217.83 277.84L218.59 279.73L219.35 281.49L220.11 283.14L220.88 284.67L221.64 286.10L222.40 287.44L223.16 288.71L223.92 289.91L224.68 291.03L225.44 292.09L226.21 293.06L226.97 293.96L227.73 294.79L228.49 295.56L229.25 296.27L230.01 296.94L230.78 297.56L231.54 298.14L232.30 298.68L233.06 299.18L233.82 299.63L234.58 300.05L235.34 300.43L236.11 300.77L236.87 301.08L237.63 301.37L238.39 301.64L239.15 301.89L239.91 302.12L240.67 302.34L241.44 302.54L242.20 302.73L242.96 302.92L243.72 303.09L244.48 303.26L245.24 303.42L246.00 303.57L246.77 303.72L247.53 303.86L248.29 304.00L249.05 304.13L249.81 304.26L250.57 304.39L251.34 304.50L252.10 304.62L252.86 304.73L253.62 304.83L254.38 304.93L255.14 305.02L255.90 305.11L256.67 305.20L257.43 305.28L258.19 305.35L258.95 305.43L259.71 305.50L260.47 305.56L261.23 305.63L262.00 305.69L262.76 305.74L263.52 305.80L264.28 305.85L265.04 305.91L265.80 305.96L266.57 306.01L267.33 306.05L268.09 306.10L268.85 306.14L269.61 306.18L270.37 306.23L271.13 306.27L271.90 306.29L272.66 306.29L273.42 306.29L274.18 306.29L274.94 306.29L275.70 306.29L276.46 306.29L277.23 306.29L277.99 306.29L278.75 306.29L279.51 306.29L280.27 306.29L281.03 306.29L281.80 306.29L282.56 306.29L283.32 306.29L284.08 306.29L284.84 306.29L285.60 306.29L286.36 306.29L287.13 306.29L287.89 306.29L288.65 306.29L289.41 306.29L290.17 306.29L290.93 306.29L291.69 306.29L292.46 306.29L293.22 306.29L293.98 306.29L294.74 306.29L295.50 306.29L296.26 306.29L297.03 306.29L297.79 306.29L298.55 306.29L299.31 306.29L300.07 306.29L300.83 306.29L301.59 306.29L302.36 306.29L303.12 306.29L303.88 306.29L304.64 306.29L305.40 306.29L306.16 306.29L306.92 306.29L307.69 306.29L308.45 306.29L309.21 306.29L309.97 306.29L310.73 306.29L311.49 306.29L312.26 306.29L313.02 306.29L313.78 306.29L314.54 306.29L315.30 306.29L316.06 306.29L316.82 306.29L317.59 306.29L318.35 306.29L319.11 306.29L319.87 306.29L320.63 306.29L321.39 306.29L322.15 306.29L322.92 306.29L323.68 306.29L324.44 306.29L325.20 306.29L325.96 306.29L326.72 306.29L327.49 306.29L328.25 306.29L329.01 306.29L329.77 306.29L330.53 306.29L331.29 306.29L332.05 306.29L332.82 306.29L333.58 306.29L334.34 306.29L335.10 306.29L335.86 306.29L336.62 306.29L337.38 306.29L338.15 306.29L338.91 306.29L339.67 306.29L340.43 306.29L341.19 306.29L341.95 306.29L342.72 306.29L343.48 306.29L344.24 306.29L345.00 306.29" stroke="#a24cf0" stroke-width="1.3" fill="none" stroke-linejoin="round"/>
<path d="M40.40 287.24L41.16 286.92L41.92 286.60L42.68 286.28L43.45 285.96L44.21 285.64L44.97 285.33L45.73 285.02L46.49 284.70L47.25 284.39L48.02 284.08L48.78 283.78L49.54 283.47L50.30 283.16L51.06 282.86L51.82 282.55L52.58 282.25L53.35 281.95L54.11 281.65L54.87 281.35L55.63 281.06L56.39 280.77L57.15 280.48L57.91 280.19L58.68 279.91L59.44 279.63L60.20 279.35L60.96 279.08L61.72 278.80L62.48 278.53L63.24 278.26L64.01 277.99L64.77 277.71L65.53 277.44L66.29 277.16L67.05 276.88L67.81 276.60L68.58 276.31L69.34 276.02L70.10 275.73L70.86 275.42L71.62 275.11L72.38 274.80L73.14 274.47L73.91 274.14L74.67 273.80L75.43 273.45L76.19 273.09L76.95 272.72L77.71 272.34L78.47 271.95L79.24 271.56L80.00 271.15L80.76 270.74L81.52 270.31L82.28 269.88L83.04 269.43L83.81 268.98L84.57 268.52L85.33 268.05L86.09 267.57L86.85 267.08L87.61 266.58L88.37 266.07L89.14 265.56L89.90 265.03L90.66 264.49L91.42 263.93L92.18 263.36L92.94 262.77L93.70 262.16L94.47 261.52L95.23 260.86L95.99 260.17L96.75 259.46L97.51 258.73L98.27 257.98L99.04 257.22L99.80 256.45L100.56 255.67L101.32 254.88L102.08 254.10L102.84 253.32L103.60 252.54L104.37 251.78L105.13 251.02L105.89 250.29L106.65 249.57L107.41 248.88L108.17 248.20L108.94 247.55L109.70 246.91L110.46 246.29L111.22 245.68L111.98 245.08L112.74 244.49L113.50 243.92L114.27 243.35L115.03 242.79L115.79 242.25L116.55 241.73L117.31 241.23L118.07 240.76L118.83 240.32L119.60 239.92L120.36 239.55L121.12 239.22L121.88 238.94L122.64 238.70L123.40 238.51L124.16 238.36L124.93 238.24L125.69 238.16L126.45 238.10L127.21 238.07L127.97 238.05L128.73 238.03L129.50 238.02L130.26 238.00L131.02 237.96L131.78 237.91L132.54 237.84L133.30 237.74L134.06 237.61L134.83 237.46L135.59 237.27L136.35 237.06L137.11 236.81L137.87 236.53L138.63 236.21L139.39 235.86L140.16 235.45L140.92 235.00L141.68 234.49L142.44 233.93L143.20 233.31L143.96 232.64L144.73 231.91L145.49 231.13L146.25 230.30L147.01 229.42L147.77 228.49L148.53 227.51L149.29 226.48L150.06 225.39L150.82 224.25L151.58 223.06L152.34 221.81L153.10 220.51L153.86 219.16L154.62 217.75L155.39 216.29L156.15 214.76L156.91 213.18L157.67 211.52L158.43 209.79L159.19 207.98L159.96 206.08L160.72 204.11L161.48 202.05L162.24 199.93L163.00 197.77L163.76 195.57L164.52 193.37L165.29 191.17L166.05 189.01L166.81 186.89L167.57 184.82L168.33 182.81L169.09 180.88L169.85 179.02L170.62 177.26L171.38 175.59L172.14 174.02L172.90 172.56L173.66 171.21L174.42 169.97L175.19 168.84L175.95 167.84L176.71 166.95L177.47 166.18L178.23 165.55L178.99 165.05L179.75 164.70L180.52 164.52L181.28 164.51L182.04 164.69L182.80 165.08L183.56 165.68L184.32 166.51L185.09 167.55L185.85 168.80L186.61 170.23L187.37 171.80L188.13 173.48L188.89 175.25L189.65 177.07L190.42 178.94L191.18 180.87L191.94 182.85L192.70 184.92L193.46 187.08L194.22 189.36L194.98 191.78L195.75 194.35L196.51 197.09L197.27 199.99L198.03 203.04L198.79 206.24L199.55 209.55L200.31 212.94L201.08 216.38L201.84 219.85L202.60 223.31L203.36 226.76L204.12 230.18L204.88 233.56L205.65 236.92L206.41 240.22L207.17 243.48L207.93 246.67L208.69 249.78L209.45 252.79L210.21 255.70L210.98 258.49L211.74 261.15L212.50 263.70L213.26 266.14L214.02 268.46L214.78 270.68L215.54 272.80L216.31 274.81L217.07 276.72L217.83 278.52L218.59 280.23L219.35 281.83L220.11 283.34L220.88 284.76L221.64 286.10L222.40 287.37L223.16 288.56L223.92 289.68L224.68 290.74L225.44 291.74L226.21 292.68L226.97 293.55L227.73 294.38L228.49 295.15L229.25 295.88L230.01 296.56L230.78 297.20L231.54 297.79L232.30 298.35L233.06 298.86L233.82 299.33L234.58 299.76L235.34 300.15L236.11 300.51L236.87 300.83L237.63 301.13L238.39 301.41L239.15 301.67L239.91 301.91L240.67 302.14L241.44 302.36L242.20 302.56L242.96 302.75L243.72 302.94L244.48 303.11L245.24 303.28L246.00 303.44L246.77 303.60L247.53 303.75L248.29 303.90L249.05 304.04L249.81 304.18L250.57 304.31L251.34 304.44L252.10 304.57L252.86 304.69L253.62 304.81L254.38 304.92L255.14 305.03L255.90 305.13L256.67 305.23L257.43 305.33L258.19 305.42L258.95 305.50L259.71 305.58L260.47 305.66L261.23 305.73L262.00 305.80L262.76 305.87L263.52 305.93L264.28 306.00L265.04 306.06L265.80 306.12L266.57 306.18L267.33 306.24L268.09 306.29L268.85 306.29L269.61 306.29L270.37 306.29L271.13 306.29L271.90 306.29L272.66 306.29L273.42 306.29L274.18 306.29L274.94 306.29L275.70 306.29L276.46 306.29L277.23 306.29L277.99 306.29L278.75 306.29L279.51 306.29L280.27 306.29L281.03 306.29L281.80 306.29L282.56 306.29L283.32 306.29L284.08 306.29L284.84 306.29L285.60 306.29L286.36 306.29L287.13 306.29L287.89 306.29L288.65 306.29L289.41 306.29L290.17 306.29L290.93 306.29L291.69 306.29L292.46 306.29L293.22 306.29L293.98 306.29L294.74 306.29L295.50 306.29L296.26 306.29L297.03 306.29L297.79 306.29L298.55 306.29L299.31 306.29L300.07 306.29L300.83 306.29L301.59 306.29L302.36 306.29L303.12 306.29L303.88 306.29L304.64 306.29L305.40 306.29L306.16 306.29L306.92 306.29L307.69 306.29L308.45 306.29L309.21 306.29L309.97 306.29L310.73 306.29L311.49 306.29L312.26 306.29L313.02 306.29L313.78 306.29L314.54 306.29L315.30 306.29L316.06 306.29L316.82 306.29L317.59 306.29L318.35 306.29L319.11 306.29L319.87 306.29L320.63 306.29L321.39 306.29L322.15 306.29L322.92 306.29L323.68 306.29L324.44 306.29L325.20 306.29L325.96 306.29L326.72 306.29L327.49 306.29L328.25 306.29L329.01 306.29L329.77 306.29L330.53 306.29L331.29 306.29L332.05 306.29L332.82 306.29L333.58 306.29L334.34 306.29L335.10 306.29L335.86 306.29L336.62 306.29L337.38 306.29L338.15 306.29L338.91 306.29L339.67 306.29L340.43 306.29L341.19 306.29L341.95 306.29L342.72 306.29L343.48 306.29L344.24 306.29L345.00 306.29" stroke="#8a3296" stroke-width="1.3" fill="none" stroke-linejoin="round"/>
<path d="M40.40 289.72L41.16 289.37L41.92 289.02L42.68 288.68L43.45 288.33L44.21 287.99L44.97 287.66L45.73 287.32L46.49 286.99L47.25 286.66L48.02 286.33L48.78 286.00L49.54 285.68L50.30 285.35L51.06 285.03L51.82 284.71L52.58 284.40L53.35 284.08L54.11 283.77L54.87 283.46L55.63 283.15L56.39 282.85L57.15 282.55L57.91 282.26L58.68 281.96L59.44 281.68L60.20 281.39L60.96 281.11L61.72 280.83L62.48 280.55L63.24 280.28L64.01 280.00L64.77 279.73L65.53 279.45L66.29 279.17L67.05 278.89L67.81 278.61L68.58 278.33L69.34 278.04L70.10 277.74L70.86 277.44L71.62 277.14L72.38 276.83L73.14 276.51L73.91 276.19L74.67 275.86L75.43 275.53L76.19 275.18L76.95 274.83L77.71 274.46L78.47 274.09L79.24 273.71L80.00 273.32L80.76 272.93L81.52 272.52L82.28 272.10L83.04 271.68L83.81 271.25L84.57 270.80L85.33 270.35L86.09 269.90L86.85 269.43L87.61 268.95L88.37 268.47L89.14 267.98L89.90 267.47L90.66 266.96L91.42 266.43L92.18 265.89L92.94 265.33L93.70 264.75L94.47 264.15L95.23 263.52L95.99 262.88L96.75 262.21L97.51 261.52L98.27 260.82L99.04 260.10L99.80 259.38L100.56 258.64L101.32 257.91L102.08 257.17L102.84 256.44L103.60 255.72L104.37 255.01L105.13 254.31L105.89 253.63L106.65 252.97L107.41 252.33L108.17 251.71L108.94 251.11L109.70 250.53L110.46 249.96L111.22 249.41L111.98 248.87L112.74 248.34L113.50 247.82L114.27 247.31L115.03 246.81L115.79 246.32L116.55 245.85L117.31 245.40L118.07 244.98L118.83 244.59L119.60 244.22L120.36 243.90L121.12 243.61L121.88 243.37L122.64 243.16L123.40 243.00L124.16 242.88L124.93 242.79L125.69 242.74L126.45 242.71L127.21 242.70L127.97 242.71L128.73 242.73L129.50 242.74L130.26 242.76L131.02 242.77L131.78 242.76L132.54 242.73L133.30 242.68L134.06 242.60L134.83 242.49L135.59 242.36L136.35 242.19L137.11 241.99L137.87 241.76L138.63 241.50L139.39 241.20L140.16 240.85L140.92 240.46L141.68 240.01L142.44 239.52L143.20 238.97L143.96 238.37L144.73 237.72L145.49 237.03L146.25 236.29L147.01 235.50L147.77 234.66L148.53 233.78L149.29 232.84L150.06 231.85L150.82 230.81L151.58 229.72L152.34 228.57L153.10 227.38L153.86 226.13L154.62 224.83L155.39 223.47L156.15 222.05L156.91 220.58L157.67 219.03L158.43 217.42L159.19 215.72L159.96 213.95L160.72 212.09L161.48 210.17L162.24 208.20L163.00 206.18L163.76 204.13L164.52 202.06L165.29 199.98L166.05 197.92L166.81 195.91L167.57 193.95L168.33 192.07L169.09 190.27L169.85 188.53L170.62 186.86L171.38 185.26L172.14 183.75L172.90 182.36L173.66 181.07L174.42 179.90L175.19 178.82L175.95 177.84L176.71 176.96L177.47 176.21L178.23 175.59L178.99 175.12L179.75 174.80L180.52 174.63L181.28 174.61L182.04 174.77L182.80 175.11L183.56 175.66L184.32 176.41L185.09 177.37L185.85 178.52L186.61 179.84L187.37 181.30L188.13 182.87L188.89 184.50L189.65 186.19L190.42 187.92L191.18 189.68L191.94 191.47L192.70 193.32L193.46 195.25L194.22 197.31L194.98 199.49L195.75 201.83L196.51 204.34L197.27 207.02L198.03 209.87L198.79 212.85L199.55 215.94L200.31 219.09L201.08 222.29L201.84 225.51L202.60 228.72L203.36 231.94L204.12 235.13L204.88 238.30L205.65 241.44L206.41 244.54L207.17 247.59L207.93 250.57L208.69 253.48L209.45 256.30L210.21 259.01L210.98 261.61L211.74 264.09L212.50 266.46L213.26 268.73L214.02 270.89L214.78 272.95L215.54 274.91L216.31 276.78L217.07 278.55L217.83 280.22L218.59 281.79L219.35 283.28L220.11 284.68L220.88 286.00L221.64 287.24L222.40 288.42L223.16 289.53L223.92 290.57L224.68 291.56L225.44 292.49L226.21 293.36L226.97 294.18L227.73 294.95L228.49 295.68L229.25 296.36L230.01 297.00L230.78 297.61L231.54 298.17L232.30 298.69L233.06 299.17L233.82 299.61L234.58 300.02L235.34 300.39L236.11 300.72L236.87 301.03L237.63 301.32L238.39 301.58L239.15 301.83L239.91 302.06L240.67 302.27L241.44 302.47L242.20 302.67L242.96 302.85L243.72 303.02L244.48 303.19L245.24 303.35L246.00 303.50L246.77 303.65L247.53 303.79L248.29 303.93L249.05 304.06L249.81 304.19L250.57 304.32L251.34 304.45L252.10 304.57L252.86 304.68L253.62 304.79L254.38 304.90L255.14 305.01L255.90 305.11L256.67 305.20L257.43 305.29L258.19 305.38L258.95 305.46L259.71 305.53L260.47 305.61L261.23 305.68L262.00 305.74L262.76 305.81L263.52 305.87L264.28 305.93L265.04 305.99L265.80 306.05L266.57 306.11L267.33 306.16L268.09 306.22L268.85 306.28L269.61 306.29L270.37 306.29L271.13 306.29L271.90 306.29L272.66 306.29L273.42 306.29L274.18 306.29L274.94 306.29L275.70 306.29L276.46 306.29L277.23 306.29L277.99 306.29L278.75 306.29L279.51 306.29L280.27 306.29L281.03 306.29L281.80 306.29L282.56 306.29L283.32 306.29L284.08 306.29L284.84 306.29L285.60 306.29L286.36 306.29L287.13 306.29L287.89 306.29L288.65 306.29L289.41 306.29L290.17 306.29L290.93 306.29L291.69 306.29L292.46 306.29L293.22 306.29L293.98 306.29L294.74 306.29L295.50 306.29L296.26 306.29L297.03 306.29L297.79 306.29L298.55 306.29L299.31 306.29L300.07 306.29L300.83 306.29L301.59 306.29L302.36 306.29L303.12 306.29L303.88 306.29L304.64 306.29L305.40 306.29L306.16 306.29L306.92 306.29L307.69 306.29L308.45 306.29L309.21 306.29L309.97 306.29L310.73 306.29L311.49 306.29L312.26 306.29L313.02 306.29L313.78 306.29L314.54 306.29L315.30 306.29L316.06 306.29L316.82 306.29L317.59 306.29L318.35 306.29L319.11 306.29L319.87 306.29L320.63 306.29L321.39 306.29L322.15 306.29L322.92 306.29L323.68 306.29L324.44 306.29L325.20 306.29L325.96 306.29L326.72 306.29L327.49 306.29L328.25 306.29L329.01 306.29L329.77 306.29L330.53 306.29L331.29 306.29L332.05 306.29L332.82 306.29L333.58 306.29L334.34 306.29L335.10 306.29L335.86 306.29L336.62 306.29L337.38 306.29L338.15 306.29L338.91 306.29L339.67 306.29L340.43 306.29L341.19 306.29L341.95 306.29L342.72 306.29L343.48 306.29L344.24 306.29L345.00 306.29" stroke="#9a3040" stroke-width="1.3" fill="none" stroke-linejoin="round"/>
<path d="M40.40 290.71L41.16 290.53L41.92 290.36L42.68 290.18L43.45 290.00L44.21 289.81L44.97 289.63L45.73 289.45L46.49 289.26L47.25 289.08L48.02 288.89L48.78 288.71L49.54 288.52L50.30 288.33L51.06 288.14L51.82 287.96L52.58 287.77L53.35 287.58L54.11 287.39L54.87 287.20L55.63 287.02L56.39 286.83L57.15 286.64L57.91 286.46L58.68 286.27L59.44 286.08L60.20 285.90L60.96 285.71L61.72 285.52L62.48 285.33L63.24 285.14L64.01 284.95L64.77 284.76L65.53 284.56L66.29 284.36L67.05 284.16L67.81 283.95L68.58 283.74L69.34 283.52L70.10 283.30L70.86 283.08L71.62 282.85L72.38 282.60L73.14 282.35L73.91 282.09L74.67 281.82L75.43 281.54L76.19 281.25L76.95 280.96L77.71 280.65L78.47 280.34L79.24 280.03L80.00 279.70L80.76 279.37L81.52 279.04L82.28 278.70L83.04 278.35L83.81 278.00L84.57 277.64L85.33 277.28L86.09 276.91L86.85 276.54L87.61 276.15L88.37 275.76L89.14 275.36L89.90 274.95L90.66 274.53L91.42 274.10L92.18 273.65L92.94 273.18L93.70 272.70L94.47 272.19L95.23 271.67L95.99 271.13L96.75 270.57L97.51 269.99L98.27 269.39L99.04 268.79L99.80 268.17L100.56 267.55L101.32 266.92L102.08 266.28L102.84 265.64L103.60 265.00L104.37 264.36L105.13 263.73L105.89 263.10L106.65 262.49L107.41 261.88L108.17 261.29L108.94 260.71L109.70 260.14L110.46 259.58L111.22 259.03L111.98 258.48L112.74 257.93L113.50 257.39L114.27 256.86L115.03 256.35L115.79 255.85L116.55 255.37L117.31 254.92L118.07 254.49L118.83 254.09L119.60 253.71L120.36 253.37L121.12 253.06L121.88 252.78L122.64 252.53L123.40 252.32L124.16 252.15L124.93 252.01L125.69 251.89L126.45 251.80L127.21 251.72L127.97 251.64L128.73 251.57L129.50 251.49L130.26 251.39L131.02 251.28L131.78 251.15L132.54 251.01L133.30 250.84L134.06 250.66L134.83 250.47L135.59 250.26L136.35 250.04L137.11 249.79L137.87 249.52L138.63 249.22L139.39 248.90L140.16 248.54L140.92 248.15L141.68 247.71L142.44 247.22L143.20 246.69L143.96 246.11L144.73 245.47L145.49 244.78L146.25 244.03L147.01 243.24L147.77 242.41L148.53 241.55L149.29 240.64L150.06 239.69L150.82 238.70L151.58 237.67L152.34 236.59L153.10 235.47L153.86 234.32L154.62 233.12L155.39 231.88L156.15 230.60L156.91 229.27L157.67 227.89L158.43 226.46L159.19 224.95L159.96 223.39L160.72 221.75L161.48 220.05L162.24 218.27L163.00 216.44L163.76 214.60L164.52 212.82L165.29 211.10L166.05 209.43L166.81 207.79L167.57 206.14L168.33 204.49L169.09 202.85L169.85 201.31L170.62 199.91L171.38 198.66L172.14 197.51L172.90 196.40L173.66 195.34L174.42 194.36L175.19 193.52L175.95 192.83L176.71 192.25L177.47 191.74L178.23 191.27L178.99 190.86L179.75 190.54L180.52 190.35L181.28 190.35L182.04 190.52L182.80 190.86L183.56 191.38L184.32 192.08L185.09 192.95L185.85 193.98L186.61 195.13L187.37 196.40L188.13 197.76L188.89 199.19L189.65 200.69L190.42 202.26L191.18 203.93L191.94 205.74L192.70 207.68L193.46 209.71L194.22 211.83L194.98 214.02L195.75 216.30L196.51 218.64L197.27 221.05L198.03 223.51L198.79 226.06L199.55 228.69L200.31 231.42L201.08 234.22L201.84 237.06L202.60 239.87L203.36 242.64L204.12 245.36L204.88 248.03L205.65 250.66L206.41 253.26L207.17 255.81L207.93 258.31L208.69 260.76L209.45 263.15L210.21 265.46L210.98 267.70L211.74 269.85L212.50 271.91L213.26 273.88L214.02 275.77L214.78 277.57L215.54 279.30L216.31 280.95L217.07 282.52L217.83 284.02L218.59 285.44L219.35 286.76L220.11 288.00L220.88 289.16L221.64 290.24L222.40 291.27L223.16 292.23L223.92 293.14L224.68 294.00L225.44 294.80L226.21 295.54L226.97 296.24L227.73 296.88L228.49 297.47L229.25 298.03L230.01 298.55L230.78 299.04L231.54 299.49L232.30 299.92L233.06 300.30L233.82 300.66L234.58 300.99L235.34 301.29L236.11 301.56L236.87 301.80L237.63 302.03L238.39 302.24L239.15 302.44L239.91 302.62L240.67 302.79L241.44 302.95L242.20 303.11L242.96 303.25L243.72 303.39L244.48 303.52L245.24 303.65L246.00 303.77L246.77 303.88L247.53 304.00L248.29 304.11L249.05 304.21L249.81 304.31L250.57 304.41L251.34 304.51L252.10 304.60L252.86 304.69L253.62 304.77L254.38 304.85L255.14 304.93L255.90 305.00L256.67 305.07L257.43 305.14L258.19 305.20L258.95 305.26L259.71 305.32L260.47 305.37L261.23 305.42L262.00 305.47L262.76 305.52L263.52 305.57L264.28 305.61L265.04 305.65L265.80 305.70L266.57 305.74L267.33 305.78L268.09 305.82L268.85 305.85L269.61 305.89L270.37 305.93L271.13 305.96L271.90 305.99L272.66 306.02L273.42 306.05L274.18 306.08L274.94 306.11L275.70 306.14L276.46 306.16L277.23 306.18L277.99 306.20L278.75 306.22L279.51 306.24L280.27 306.25L281.03 306.26L281.80 306.27L282.56 306.28L283.32 306.28L284.08 306.29L284.84 306.29L285.60 306.29L286.36 306.29L287.13 306.29L287.89 306.29L288.65 306.29L289.41 306.29L290.17 306.29L290.93 306.29L291.69 306.29L292.46 306.29L293.22 306.29L293.98 306.29L294.74 306.29L295.50 306.29L296.26 306.29L297.03 306.29L297.79 306.29L298.55 306.29L299.31 306.29L300.07 306.29L300.83 306.29L301.59 306.29L302.36 306.29L303.12 306.29L303.88 306.29L304.64 306.29L305.40 306.29L306.16 306.29L306.92 306.29L307.69 306.29L308.45 306.29L309.21 306.29L309.97 306.29L310.73 306.29L311.49 306.29L312.26 306.29L313.02 306.29L313.78 306.29L314.54 306.29L315.30 306.29L316.06 306.29L316.82 306.29L317.59 306.29L318.35 306.29L319.11 306.29L319.87 306.29L320.63 306.29L321.39 306.29L322.15 306.29L322.92 306.29L323.68 306.29L324.44 306.29L325.20 306.29L325.96 306.29L326.72 306.29L327.49 306.29L328.25 306.29L329.01 306.29L329.77 306.29L330.53 306.29L331.29 306.29L332.05 306.29L332.82 306.29L333.58 306.29L334.34 306.29L335.10 306.29L335.86 306.29L336.62 306.29L337.38 306.29L338.15 306.29L338.91 306.29L339.67 306.29L340.43 306.29L341.19 306.29L341.95 306.29L342.72 306.29L343.48 306.29L344.24 306.29L345.00 306.29" stroke="#a3a243" stroke-width="1.3" fill="none" stroke-linejoin="round"/>
<path d="M40.40 290.71L41.16 290.59L41.92 290.46L42.68 290.33L43.45 290.20L44.21 290.07L44.97 289.94L45.73 289.80L46.49 289.67L47.25 289.53L48.02 289.39L48.78 289.25L49.54 289.11L50.30 288.97L51.06 288.83L51.82 288.68L52.58 288.54L53.35 288.39L54.11 288.25L54.87 288.10L55.63 287.96L56.39 287.81L57.15 287.67L57.91 287.52L58.68 287.37L59.44 287.23L60.20 287.08L60.96 286.93L61.72 286.78L62.48 286.63L63.24 286.47L64.01 286.32L64.77 286.16L65.53 286.00L66.29 285.83L67.05 285.67L67.81 285.49L68.58 285.32L69.34 285.14L70.10 284.96L70.86 284.77L71.62 284.57L72.38 284.37L73.14 284.15L73.91 283.93L74.67 283.70L75.43 283.46L76.19 283.21L76.95 282.95L77.71 282.69L78.47 282.42L79.24 282.15L80.00 281.87L80.76 281.58L81.52 281.29L82.28 280.99L83.04 280.69L83.81 280.38L84.57 280.07L85.33 279.75L86.09 279.43L86.85 279.10L87.61 278.76L88.37 278.42L89.14 278.07L89.90 277.71L90.66 277.34L91.42 276.95L92.18 276.56L92.94 276.15L93.70 275.72L94.47 275.27L95.23 274.81L95.99 274.32L96.75 273.83L97.51 273.31L98.27 272.78L99.04 272.24L99.80 271.70L100.56 271.14L101.32 270.58L102.08 270.01L102.84 269.44L103.60 268.87L104.37 268.30L105.13 267.73L105.89 267.17L106.65 266.62L107.41 266.07L108.17 265.54L108.94 265.03L109.70 264.52L110.46 264.02L111.22 263.52L111.98 263.03L112.74 262.54L113.50 262.05L114.27 261.57L115.03 261.11L115.79 260.66L116.55 260.24L117.31 259.83L118.07 259.45L118.83 259.09L119.60 258.76L120.36 258.45L121.12 258.17L121.88 257.93L122.64 257.71L123.40 257.53L124.16 257.38L124.93 257.25L125.69 257.16L126.45 257.08L127.21 257.01L127.97 256.95L128.73 256.89L129.50 256.83L130.26 256.75L131.02 256.66L131.78 256.55L132.54 256.42L133.30 256.28L134.06 256.13L134.83 255.97L135.59 255.79L136.35 255.60L137.11 255.39L137.87 255.16L138.63 254.90L139.39 254.62L140.16 254.31L140.92 253.97L141.68 253.58L142.44 253.16L143.20 252.69L143.96 252.18L144.73 251.61L145.49 250.99L146.25 250.32L147.01 249.62L147.77 248.87L148.53 248.10L149.29 247.28L150.06 246.43L150.82 245.54L151.58 244.61L152.34 243.63L153.10 242.62L153.86 241.58L154.62 240.49L155.39 239.37L156.15 238.22L156.91 237.01L157.67 235.76L158.43 234.46L159.19 233.10L159.96 231.67L160.72 230.19L161.48 228.65L162.24 227.04L163.00 225.37L163.76 223.70L164.52 222.09L165.29 220.53L166.05 219.03L166.81 217.54L167.57 216.05L168.33 214.55L169.09 213.06L169.85 211.66L170.62 210.39L171.38 209.26L172.14 208.22L172.90 207.22L173.66 206.25L174.42 205.37L175.19 204.61L175.95 203.99L176.71 203.46L177.47 203.00L178.23 202.58L178.99 202.21L179.75 201.91L180.52 201.74L181.28 201.73L182.04 201.88L182.80 202.19L183.56 202.65L184.32 203.28L185.09 204.07L185.85 204.99L186.61 206.03L187.37 207.17L188.13 208.39L188.89 209.68L189.65 211.03L190.42 212.44L191.18 213.95L191.94 215.58L192.70 217.34L193.46 219.19L194.22 221.10L194.98 223.09L195.75 225.15L196.51 227.27L197.27 229.43L198.03 231.65L198.79 233.94L199.55 236.31L200.31 238.76L201.08 241.29L201.84 243.84L202.60 246.38L203.36 248.87L204.12 251.31L204.88 253.71L205.65 256.08L206.41 258.41L207.17 260.70L207.93 262.95L208.69 265.16L209.45 267.30L210.21 269.39L210.98 271.40L211.74 273.33L212.50 275.18L213.26 276.96L214.02 278.66L214.78 280.28L215.54 281.84L216.31 283.32L217.07 284.75L217.83 286.10L218.59 287.37L219.35 288.57L220.11 289.68L220.88 290.73L221.64 291.70L222.40 292.62L223.16 293.49L223.92 294.31L224.68 295.08L225.44 295.80L226.21 296.47L226.97 297.09L227.73 297.67L228.49 298.21L229.25 298.71L230.01 299.17L230.78 299.61L231.54 300.02L232.30 300.40L233.06 300.75L233.82 301.07L234.58 301.36L235.34 301.63L236.11 301.87L236.87 302.09L237.63 302.29L238.39 302.48L239.15 302.66L239.91 302.82L240.67 302.98L241.44 303.12L242.20 303.26L242.96 303.39L243.72 303.51L244.48 303.63L245.24 303.74L246.00 303.85L246.77 303.96L247.53 304.06L248.29 304.16L249.05 304.25L249.81 304.34L250.57 304.43L251.34 304.52L252.10 304.60L252.86 304.68L253.62 304.75L254.38 304.82L255.14 304.89L255.90 304.96L256.67 305.02L257.43 305.08L258.19 305.14L258.95 305.19L259.71 305.24L260.47 305.29L261.23 305.34L262.00 305.38L262.76 305.42L263.52 305.46L264.28 305.50L265.04 305.54L265.80 305.58L266.57 305.62L267.33 305.65L268.09 305.69L268.85 305.72L269.61 305.75L270.37 305.78L271.13 305.81L271.90 305.84L272.66 305.87L273.42 305.90L274.18 305.92L274.94 305.95L275.70 305.97L276.46 305.99L277.23 306.01L277.99 306.03L278.75 306.04L279.51 306.06L280.27 306.07L281.03 306.08L281.80 306.09L282.56 306.10L283.32 306.10L284.08 306.11L284.84 306.11L285.60 306.11L286.36 306.11L287.13 306.11L287.89 306.11L288.65 306.11L289.41 306.11L290.17 306.11L290.93 306.11L291.69 306.11L292.46 306.11L293.22 306.11L293.98 306.11L294.74 306.11L295.50 306.11L296.26 306.12L297.03 306.12L297.79 306.12L298.55 306.12L299.31 306.12L300.07 306.12L300.83 306.12L301.59 306.12L302.36 306.12L303.12 306.12L303.88 306.12L304.64 306.12L305.40 306.12L306.16 306.12L306.92 306.12L307.69 306.12L308.45 306.12L309.21 306.12L309.97 306.12L310.73 306.12L311.49 306.12L312.26 306.12L313.02 306.12L313.78 306.12L314.54 306.12L315.30 306.12L316.06 306.12L316.82 306.12L317.59 306.12L318.35 306.12L319.11 306.12L319.87 306.12L320.63 306.12L321.39 306.12L322.15 306.12L322.92 306.12L323.68 306.12L324.44 306.12L325.20 306.12L325.96 306.12L326.72 306.12L327.49 306.12L328.25 306.12L329.01 306.12L329.77 306.12L330.53 306.12L331.29 306.12L332.05 306.12L332.82 306.12L333.58 306.12L334.34 306.12L335.10 306.12L335.86 306.12L336.62 306.12L337.38 306.12L338.15 306.12L338.91 306.12L339.67 306.12L340.43 306.12L341.19 306.12L341.95 306.12L342.72 306.12L343.48 306.12L344.24 306.12L345.00 306.12" stroke="#4f74a0" stroke-width="1.3" fill="none" stroke-linejoin="round"/>
<path d="M40.40 290.71L41.16 290.59L41.92 290.46L42.68 290.33L43.45 290.20L44.21 290.07L44.97 289.94L45.73 289.81L46.49 289.67L47.25 289.53L48.02 289.39L48.78 289.26L49.54 289.11L50.30 288.97L51.06 288.83L51.82 288.69L52.58 288.54L53.35 288.40L54.11 288.25L54.87 288.11L55.63 287.96L56.39 287.82L57.15 287.67L57.91 287.53L58.68 287.38L59.44 287.23L60.20 287.08L60.96 286.94L61.72 286.79L62.48 286.63L63.24 286.48L64.01 286.33L64.77 286.17L65.53 286.01L66.29 285.85L67.05 285.68L67.81 285.51L68.58 285.34L69.34 285.16L70.10 284.97L70.86 284.79L71.62 284.59L72.38 284.39L73.14 284.17L73.91 283.95L74.67 283.72L75.43 283.48L76.19 283.24L76.95 282.98L77.71 282.72L78.47 282.46L79.24 282.18L80.00 281.90L80.76 281.62L81.52 281.33L82.28 281.03L83.04 280.73L83.81 280.43L84.57 280.12L85.33 279.80L86.09 279.48L86.85 279.15L87.61 278.81L88.37 278.47L89.14 278.12L89.90 277.76L90.66 277.39L91.42 277.01L92.18 276.62L92.94 276.21L93.70 275.78L94.47 275.34L95.23 274.88L95.99 274.40L96.75 273.90L97.51 273.39L98.27 272.86L99.04 272.32L99.80 271.78L100.56 271.22L101.32 270.67L102.08 270.10L102.84 269.54L103.60 268.97L104.37 268.40L105.13 267.83L105.89 267.28L106.65 266.73L107.41 266.19L108.17 265.66L108.94 265.15L109.70 264.64L110.46 264.15L111.22 263.65L111.98 263.16L112.74 262.68L113.50 262.20L114.27 261.72L115.03 261.26L115.79 260.82L116.55 260.40L117.31 260.00L118.07 259.62L118.83 259.26L119.60 258.93L120.36 258.63L121.12 258.35L121.88 258.11L122.64 257.89L123.40 257.71L124.16 257.56L124.93 257.44L125.69 257.35L126.45 257.27L127.21 257.20L127.97 257.14L128.73 257.09L129.50 257.02L130.26 256.95L131.02 256.86L131.78 256.75L132.54 256.63L133.30 256.49L134.06 256.34L134.83 256.18L135.59 256.00L136.35 255.81L137.11 255.60L137.87 255.38L138.63 255.12L139.39 254.84L140.16 254.54L140.92 254.19L141.68 253.81L142.44 253.39L143.20 252.93L143.96 252.41L144.73 251.85L145.49 251.23L146.25 250.57L147.01 249.87L147.77 249.13L148.53 248.36L149.29 247.55L150.06 246.71L150.82 245.82L151.58 244.89L152.34 243.93L153.10 242.92L153.86 241.88L154.62 240.81L155.39 239.69L156.15 238.54L156.91 237.35L157.67 236.10L158.43 234.80L159.19 233.45L159.96 232.04L160.72 230.56L161.48 229.03L162.24 227.42L163.00 225.77L163.76 224.11L164.52 222.50L165.29 220.96L166.05 219.46L166.81 217.97L167.57 216.49L168.33 214.99L169.09 213.52L169.85 212.12L170.62 210.86L171.38 209.73L172.14 208.70L172.90 207.70L173.66 206.74L174.42 205.86L175.19 205.10L175.95 204.48L176.71 203.95L177.47 203.49L178.23 203.07L178.99 202.70L179.75 202.40L180.52 202.23L181.28 202.22L182.04 202.37L182.80 202.68L183.56 203.14L184.32 203.77L185.09 204.55L185.85 205.47L186.61 206.50L187.37 207.64L188.13 208.85L188.89 210.14L189.65 211.48L190.42 212.88L191.18 214.38L191.94 216.00L192.70 217.75L193.46 219.58L194.22 221.48L194.98 223.45L195.75 225.50L196.51 227.60L197.27 229.75L198.03 231.96L198.79 234.24L199.55 236.60L200.31 239.04L201.08 241.56L201.84 244.10L202.60 246.62L203.36 249.10L204.12 251.54L204.88 253.93L205.65 256.29L206.41 258.61L207.17 260.89L207.93 263.13L208.69 265.33L209.45 267.46L210.21 269.54L210.98 271.54L211.74 273.46L212.50 275.31L213.26 277.08L214.02 278.77L214.78 280.38L215.54 281.93L216.31 283.41L217.07 284.83L217.83 286.17L218.59 287.44L219.35 288.63L220.11 289.74L220.88 290.77L221.64 291.75L222.40 292.66L223.16 293.53L223.92 294.34L224.68 295.11L225.44 295.83L226.21 296.49L226.97 297.12L227.73 297.69L228.49 298.22L229.25 298.72L230.01 299.19L230.78 299.62L231.54 300.03L232.30 300.41L233.06 300.76L233.82 301.08L234.58 301.37L235.34 301.63L236.11 301.88L236.87 302.10L237.63 302.30L238.39 302.49L239.15 302.66L239.91 302.83L240.67 302.98L241.44 303.13L242.20 303.26L242.96 303.39L243.72 303.51L244.48 303.63L245.24 303.74L246.00 303.85L246.77 303.96L247.53 304.06L248.29 304.16L249.05 304.25L249.81 304.34L250.57 304.43L251.34 304.52L252.10 304.60L252.86 304.68L253.62 304.75L254.38 304.82L255.14 304.89L255.90 304.96L256.67 305.02L257.43 305.08L258.19 305.14L258.95 305.19L259.71 305.24L260.47 305.29L261.23 305.33L262.00 305.38L262.76 305.42L263.52 305.46L264.28 305.50L265.04 305.54L265.80 305.58L266.57 305.61L267.33 305.65L268.09 305.68L268.85 305.72L269.61 305.75L270.37 305.78L271.13 305.81L271.90 305.84L272.66 305.87L273.42 305.90L274.18 305.92L274.94 305.95L275.70 305.97L276.46 305.99L277.23 306.01L277.99 306.03L278.75 306.04L279.51 306.06L280.27 306.07L281.03 306.08L281.80 306.09L282.56 306.10L283.32 306.10L284.08 306.10L284.84 306.11L285.60 306.11L286.36 306.11L287.13 306.11L287.89 306.11L288.65 306.11L289.41 306.11L290.17 306.11L290.93 306.11L291.69 306.11L292.46 306.11L293.22 306.11L293.98 306.11L294.74 306.11L295.50 306.11L296.26 306.11L297.03 306.11L297.79 306.11L298.55 306.11L299.31 306.12L300.07 306.12L300.83 306.12L301.59 306.12L302.36 306.12L303.12 306.12L303.88 306.12L304.64 306.12L305.40 306.12L306.16 306.12L306.92 306.12L307.69 306.12L308.45 306.12L309.21 306.12L309.97 306.12L310.73 306.12L311.49 306.12L312.26 306.12L313.02 306.12L313.78 306.12L314.54 306.12L315.30 306.12L316.06 306.12L316.82 306.12L317.59 306.12L318.35 306.12L319.11 306.12L319.87 306.12L320.63 306.12L321.39 306.12L322.15 306.12L322.92 306.12L323.68 306.12L324.44 306.12L325.20 306.12L325.96 306.12L326.72 306.12L327.49 306.12L328.25 306.12L329.01 306.12L329.77 306.12L330.53 306.12L331.29 306.12L332.05 306.12L332.82 306.12L333.58 306.12L334.34 306.12L335.10 306.12L335.86 306.12L336.62 306.12L337.38 306.12L338.15 306.12L338.91 306.12L339.67 306.12L340.43 306.12L341.19 306.12L341.95 306.12L342.72 306.12L343.48 306.12L344.24 306.12L345.00 306.12" stroke="#47b3b3" stroke-width="1.3" fill="none" stroke-linejoin="round"/>
<path d="M40.40 290.22L41.16 290.04L41.92 289.87L42.68 289.70L43.45 289.52L44.21 289.35L44.97 289.18L45.73 289.00L46.49 288.83L47.25 288.66L48.02 288.48L48.78 288.31L49.54 288.14L50.30 287.96L51.06 287.79L51.82 287.62L52.58 287.44L53.35 287.27L54.11 287.10L54.87 286.92L55.63 286.75L56.39 286.58L57.15 286.41L57.91 286.24L58.68 286.08L59.44 285.91L60.20 285.75L60.96 285.59L61.72 285.42L62.48 285.26L63.24 285.10L64.01 284.94L64.77 284.77L65.53 284.61L66.29 284.44L67.05 284.27L67.81 284.09L68.58 283.92L69.34 283.74L70.10 283.55L70.86 283.36L71.62 283.17L72.38 282.97L73.14 282.76L73.91 282.55L74.67 282.33L75.43 282.11L76.19 281.88L76.95 281.64L77.71 281.39L78.47 281.14L79.24 280.88L80.00 280.62L80.76 280.34L81.52 280.06L82.28 279.78L83.04 279.48L83.81 279.18L84.57 278.87L85.33 278.56L86.09 278.24L86.85 277.91L87.61 277.58L88.37 277.24L89.14 276.89L89.90 276.54L90.66 276.18L91.42 275.80L92.18 275.41L92.94 275.01L93.70 274.60L94.47 274.16L95.23 273.71L95.99 273.25L96.75 272.76L97.51 272.27L98.27 271.76L99.04 271.24L99.80 270.71L100.56 270.17L101.32 269.63L102.08 269.10L102.84 268.56L103.60 268.03L104.37 267.50L105.13 266.99L105.89 266.48L106.65 265.99L107.41 265.51L108.17 265.04L108.94 264.59L109.70 264.15L110.46 263.72L111.22 263.30L111.98 262.88L112.74 262.47L113.50 262.06L114.27 261.66L115.03 261.27L115.79 260.88L116.55 260.51L117.31 260.15L118.07 259.81L118.83 259.48L119.60 259.18L120.36 258.90L121.12 258.64L121.88 258.41L122.64 258.21L123.40 258.03L124.16 257.88L124.93 257.75L125.69 257.64L126.45 257.54L127.21 257.46L127.97 257.37L128.73 257.29L129.50 257.20L130.26 257.11L131.02 257.00L131.78 256.87L132.54 256.72L133.30 256.55L134.06 256.36L134.83 256.15L135.59 255.91L136.35 255.65L137.11 255.37L137.87 255.06L138.63 254.73L139.39 254.36L140.16 253.97L140.92 253.55L141.68 253.09L142.44 252.60L143.20 252.07L143.96 251.51L144.73 250.92L145.49 250.30L146.25 249.65L147.01 248.98L147.77 248.28L148.53 247.55L149.29 246.80L150.06 246.02L150.82 245.22L151.58 244.38L152.34 243.53L153.10 242.64L153.86 241.73L154.62 240.79L155.39 239.82L156.15 238.82L156.91 237.79L157.67 236.71L158.43 235.59L159.19 234.42L159.96 233.20L160.72 231.93L161.48 230.60L162.24 229.24L163.00 227.85L163.76 226.44L164.52 225.03L165.29 223.62L166.05 222.23L166.81 220.87L167.57 219.55L168.33 218.27L169.09 217.04L169.85 215.86L170.62 214.73L171.38 213.67L172.14 212.68L172.90 211.75L173.66 210.90L174.42 210.12L175.19 209.42L175.95 208.79L176.71 208.24L177.47 207.77L178.23 207.39L178.99 207.10L179.75 206.91L180.52 206.83L181.28 206.86L182.04 207.03L182.80 207.33L183.56 207.78L184.32 208.38L185.09 209.13L185.85 210.03L186.61 211.04L187.37 212.15L188.13 213.34L188.89 214.58L189.65 215.86L190.42 217.17L191.18 218.52L191.94 219.90L192.70 221.34L193.46 222.85L194.22 224.44L194.98 226.12L195.75 227.91L196.51 229.82L197.27 231.84L198.03 233.96L198.79 236.19L199.55 238.49L200.31 240.85L201.08 243.24L201.84 245.65L202.60 248.06L203.36 250.46L204.12 252.84L204.88 255.19L205.65 257.52L206.41 259.83L207.17 262.09L207.93 264.31L208.69 266.47L209.45 268.57L210.21 270.59L210.98 272.53L211.74 274.38L212.50 276.15L213.26 277.85L214.02 279.46L214.78 281.00L215.54 282.48L216.31 283.87L217.07 285.20L217.83 286.46L218.59 287.64L219.35 288.76L220.11 289.81L220.88 290.79L221.64 291.73L222.40 292.60L223.16 293.43L223.92 294.22L224.68 294.95L225.44 295.65L226.21 296.30L226.97 296.91L227.73 297.48L228.49 298.02L229.25 298.52L230.01 299.00L230.78 299.44L231.54 299.86L232.30 300.24L233.06 300.60L233.82 300.92L234.58 301.22L235.34 301.49L236.11 301.74L236.87 301.97L237.63 302.18L238.39 302.38L239.15 302.56L239.91 302.73L240.67 302.88L241.44 303.03L242.20 303.18L242.96 303.31L243.72 303.44L244.48 303.56L245.24 303.68L246.00 303.79L246.77 303.90L247.53 304.00L248.29 304.10L249.05 304.20L249.81 304.30L250.57 304.39L251.34 304.49L252.10 304.57L252.86 304.66L253.62 304.74L254.38 304.82L255.14 304.90L255.90 304.97L256.67 305.04L257.43 305.10L258.19 305.16L258.95 305.22L259.71 305.28L260.47 305.33L261.23 305.38L262.00 305.43L262.76 305.48L263.52 305.52L264.28 305.57L265.04 305.61L265.80 305.65L266.57 305.70L267.33 305.74L268.09 305.78L268.85 305.82L269.61 305.86L270.37 305.89L271.13 305.93L271.90 305.97L272.66 306.00L273.42 306.03L274.18 306.06L274.94 306.09L275.70 306.12L276.46 306.14L277.23 306.17L277.99 306.19L278.75 306.21L279.51 306.22L280.27 306.24L281.03 306.25L281.80 306.26L282.56 306.27L283.32 306.27L284.08 306.28L284.84 306.28L285.60 306.28L286.36 306.29L287.13 306.29L287.89 306.29L288.65 306.29L289.41 306.29L290.17 306.29L290.93 306.29L291.69 306.29L292.46 306.29L293.22 306.29L293.98 306.29L294.74 306.29L295.50 306.29L296.26 306.29L297.03 306.29L297.79 306.29L298.55 306.29L299.31 306.29L300.07 306.29L300.83 306.29L301.59 306.29L302.36 306.29L303.12 306.29L303.88 306.29L304.64 306.29L305.40 306.29L306.16 306.29L306.92 306.29L307.69 306.29L308.45 306.29L309.21 306.29L309.97 306.29L310.73 306.29L311.49 306.29L312.26 306.29L313.02 306.29L313.78 306.29L314.54 306.29L315.30 306.29L316.06 306.29L316.82 306.29L317.59 306.29L318.35 306.29L319.11 306.29L319.87 306.29L320.63 306.29L321.39 306.29L322.15 306.29L322.92 306.29L323.68 306.29L324.44 306.29L325.20 306.29L325.96 306.29L326.72 306.29L327.49 306.29L328.25 306.29L329.01 306.29L329.77 306.29L330.53 306.29L331.29 306.29L332.05 306.29L332.82 306.29L333.58 306.29L334.34 306.29L335.10 306.29L335.86 306.29L336.62 306.29L337.38 306.29L338.15 306.29L338.91 306.29L339.67 306.29L340.43 306.29L341.19 306.29L341.95 306.29L342.72 306.29L343.48 306.29L344.24 306.29L345.00 306.29" stroke="#a88455" stroke-width="1.3" fill="none" stroke-linejoin="round"/>
<text x="36.8" y="306.6" text-anchor="end" font-family='"Liberation Sans", sans-serif' font-weight="bold" font-size="10">0.0</text>
<text x="36.8" y="259.9" text-anchor="end" font-family='"Liberation Sans", sans-serif' font-weight="bold" font-size="10">0.5</text>
<text x="36.8" y="210.4" text-anchor="end" font-family='"Liberation Sans", sans-serif' font-weight="bold" font-size="10">1.0</text>
<text x="36.8" y="160.4" text-anchor="end" font-family='"Liberation Sans", sans-serif' font-weight="bold" font-size="10">1.5</text>
<text x="36.8" y="111.2" text-anchor="end" font-family='"Liberation Sans", sans-serif' font-weight="bold" font-size="10">2.0</text>
<text x="36.8" y="60.5" text-anchor="end" font-family='"Liberation Sans", sans-serif' font-weight="bold" font-size="10">2.5</text>
<text x="36.8" y="10.8" text-anchor="end" font-family='"Liberation Sans", sans-serif' font-weight="bold" font-size="10">3.0</text>
<text x="38.9" y="318.6" text-anchor="middle" font-family='"Liberation Sans", sans-serif' font-weight="bold" font-size="10">450</text>
<text x="115.4" y="318.6" text-anchor="middle" font-family='"Liberation Sans", sans-serif' font-weight="bold" font-size="10">500</text>
<text x="192.5" y="318.6" text-anchor="middle" font-family='"Liberation Sans", sans-serif' font-weight="bold" font-size="10">550</text>
<text x="268.7" y="318.6" text-anchor="middle" font-family='"Liberation Sans", sans-serif' font-weight="bold" font-size="10">600</text>
<text x="344.8" y="318.6" text-anchor="middle" font-family='"Liberation Sans", sans-serif' font-weight="bold" font-size="10">650</text>
<text x="176.5" y="336.3" text-anchor="middle" font-family='"Liberation Sans", sans-serif' font-weight="bold" font-size="10.3">Wavelenth (nm)</text>
<text transform="translate(11.6,158.7) rotate(-90)" text-anchor="middle" font-family='"Liberation Sans", sans-serif' font-weight="bold" font-size="14" textLength="105.4" lengthAdjust="spacingAndGlyphs">Absorbance (A)</text>
<text transform="translate(43.3,28.8) scale(0.886,1)" font-family='"Liberation Sans", sans-serif' font-weight="bold" font-size="20.5">(a)</text>
<rect x="258.6" y="9.3" width="77.5" height="247.6" fill="#fff" stroke="#9a9a9a" stroke-width="1"/>
<line x1="262.4" x2="289" y1="19.7" y2="19.7" stroke="#3a3a3a" stroke-width="1.4"/>
<text transform="translate(292.6,24.3) scale(0.885,1)" font-family='"Liberation Sans", sans-serif' font-size="12.9" fill="#111">Blank</text>
<line x1="262.4" x2="289" y1="38.7" y2="38.7" stroke="#e0474c" stroke-width="1.4"/>
<text transform="translate(292.6,43.3) scale(0.885,1)" font-family='"Liberation Sans", sans-serif' font-size="12.9" fill="#111">10 Min</text>
<line x1="262.4" x2="289" y1="57.8" y2="57.8" stroke="#3b47d8" stroke-width="1.4"/>
<text transform="translate(292.6,62.4) scale(0.885,1)" font-family='"Liberation Sans", sans-serif' font-size="12.9" fill="#111">20 Min</text>
<line x1="262.4" x2="289" y1="76.8" y2="76.8" stroke="#d84fe0" stroke-width="1.4"/>
<text transform="translate(292.6,81.4) scale(0.885,1)" font-family='"Liberation Sans", sans-serif' font-size="12.9" fill="#111">30 Min</text>
<line x1="262.4" x2="289" y1="95.9" y2="95.9" stroke="#3d9444" stroke-width="1.4"/>
<text transform="translate(292.6,100.5) scale(0.885,1)" font-family='"Liberation Sans", sans-serif' font-size="12.9" fill="#111">40 Min</text>
<line x1="262.4" x2="289" y1="114.9" y2="114.9" stroke="#45457e" stroke-width="1.4"/>
<text transform="translate(292.6,119.5) scale(0.885,1)" font-family='"Liberation Sans", sans-serif' font-size="12.9" fill="#111">50 Min</text>
<line x1="262.4" x2="289" y1="133.9" y2="133.9" stroke="#a24cf0" stroke-width="1.4"/>
<text transform="translate(292.6,138.5) scale(0.885,1)" font-family='"Liberation Sans", sans-serif' font-size="12.9" fill="#111">60 Min</text>
<line x1="262.4" x2="289" y1="153.0" y2="153.0" stroke="#8a3296" stroke-width="1.4"/>
<text transform="translate(292.6,157.6) scale(0.885,1)" font-family='"Liberation Sans", sans-serif' font-size="12.9" fill="#111">70 min</text>
<line x1="262.4" x2="289" y1="172.0" y2="172.0" stroke="#9a3040" stroke-width="1.4"/>
<text transform="translate(292.6,176.6) scale(0.885,1)" font-family='"Liberation Sans", sans-serif' font-size="12.9" fill="#111">80 min</text>
<line x1="262.4" x2="289" y1="191.1" y2="191.1" stroke="#a3a243" stroke-width="1.4"/>
<text transform="translate(292.6,195.7) scale(0.885,1)" font-family='"Liberation Sans", sans-serif' font-size="12.9" fill="#111">90 min</text>
<line x1="262.4" x2="289" y1="210.1" y2="210.1" stroke="#4f74a0" stroke-width="1.4"/>
<text transform="translate(292.6,214.7) scale(0.885,1)" font-family='"Liberation Sans", sans-serif' font-size="12.9" fill="#111">100 min</text>
<line x1="262.4" x2="289" y1="229.1" y2="229.1" stroke="#47b3b3" stroke-width="1.4"/>
<text transform="translate(292.6,233.7) scale(0.885,1)" font-family='"Liberation Sans", sans-serif' font-size="12.9" fill="#111">110 min</text>
<line x1="262.4" x2="289" y1="248.2" y2="248.2" stroke="#a88455" stroke-width="1.4"/>
<text transform="translate(292.6,252.8) scale(0.885,1)" font-family='"Liberation Sans", sans-serif' font-size="12.9" fill="#111">120 min</text>
<rect x="400.3" y="10.0" width="278.8" height="295.4" fill="#fff"/>
<path d="M400.20 300.39L400.90 300.38L401.59 300.36L402.29 300.35L402.99 300.34L403.69 300.33L404.38 300.31L405.08 300.30L405.78 300.29L406.48 300.28L407.18 300.26L407.87 300.25L408.57 300.24L409.27 300.22L409.96 300.21L410.66 300.20L411.36 300.19L412.06 300.17L412.75 300.16L413.45 300.15L414.15 300.14L414.85 300.12L415.55 300.11L416.24 300.10L416.94 300.08L417.64 300.07L418.33 300.06L419.03 300.04L419.73 300.03L420.43 300.02L421.12 300.01L421.82 299.99L422.52 299.98L423.22 299.97L423.91 299.95L424.61 299.94L425.31 299.93L426.01 299.91L426.70 299.90L427.40 299.89L428.10 299.87L428.80 299.86L429.50 299.85L430.19 299.83L430.89 299.82L431.59 299.81L432.28 299.79L432.98 299.78L433.68 299.77L434.38 299.75L435.07 299.74L435.77 299.73L436.47 299.71L437.17 299.70L437.87 299.69L438.56 299.67L439.26 299.66L439.96 299.65L440.65 299.63L441.35 299.62L442.05 299.61L442.75 299.59L443.44 299.58L444.14 299.57L444.84 299.55L445.54 299.54L446.24 299.53L446.93 299.51L447.63 299.50L448.33 299.49L449.02 299.47L449.72 299.46L450.42 299.45L451.12 299.44L451.81 299.43L452.51 299.41L453.21 299.40L453.91 299.39L454.61 299.38L455.30 299.36L456.00 299.35L456.70 299.34L457.39 299.33L458.09 299.31L458.79 299.30L459.49 299.29L460.19 299.28L460.88 299.27L461.58 299.25L462.28 299.24L462.97 299.23L463.67 299.22L464.37 299.20L465.07 299.19L465.76 299.18L466.46 299.16L467.16 299.15L467.86 299.14L468.56 299.12L469.25 299.11L469.95 299.10L470.65 299.08L471.34 299.07L472.04 299.06L472.74 299.04L473.44 299.03L474.13 299.01L474.83 299.00L475.53 298.98L476.23 298.97L476.92 298.95L477.62 298.93L478.32 298.92L479.02 298.90L479.71 298.89L480.41 298.87L481.11 298.85L481.81 298.83L482.50 298.82L483.20 298.80L483.90 298.78L484.60 298.76L485.29 298.74L485.99 298.72L486.69 298.70L487.39 298.68L488.08 298.66L488.78 298.64L489.48 298.62L490.18 298.60L490.88 298.57L491.57 298.54L492.27 298.51L492.97 298.48L493.66 298.45L494.36 298.42L495.06 298.38L495.76 298.34L496.45 298.30L497.15 298.26L497.85 298.22L498.55 298.18L499.25 298.14L499.94 298.09L500.64 298.04L501.34 298.00L502.03 297.95L502.73 297.90L503.43 297.85L504.13 297.80L504.82 297.75L505.52 297.70L506.22 297.65L506.92 297.60L507.62 297.55L508.31 297.50L509.01 297.45L509.71 297.40L510.40 297.35L511.10 297.30L511.80 297.25L512.50 297.20L513.19 297.16L513.89 297.11L514.59 297.06L515.29 297.02L515.99 296.98L516.68 296.93L517.38 296.89L518.08 296.85L518.77 296.81L519.47 296.78L520.17 296.74L520.87 296.71L521.56 296.68L522.26 296.65L522.96 296.62L523.66 296.60L524.36 296.58L525.05 296.56L525.75 296.54L526.45 296.52L527.14 296.51L527.84 296.50L528.54 296.50L529.24 296.50L529.93 296.50L530.63 296.51L531.33 296.53L532.03 296.55L532.73 296.58L533.42 296.62L534.12 296.67L534.82 296.72L535.51 296.78L536.21 296.84L536.91 296.91L537.61 296.98L538.30 297.06L539.00 297.15L539.70 297.24L540.40 297.33L541.10 297.42L541.79 297.52L542.49 297.62L543.19 297.72L543.88 297.82L544.58 297.92L545.28 298.02L545.98 298.12L546.67 298.23L547.37 298.33L548.07 298.43L548.77 298.53L549.47 298.64L550.16 298.74L550.86 298.85L551.56 298.96L552.25 299.08L552.95 299.20L553.65 299.32L554.35 299.44L555.04 299.57L555.74 299.71L556.44 299.84L557.14 299.98L557.84 300.11L558.53 300.25L559.23 300.39L559.93 300.52L560.62 300.66L561.32 300.79L562.02 300.93L562.72 301.06L563.41 301.18L564.11 301.30L564.81 301.42L565.51 301.54L566.20 301.65L566.90 301.75L567.60 301.85L568.30 301.94L569.00 302.04L569.69 302.12L570.39 302.21L571.09 302.29L571.78 302.37L572.48 302.45L573.18 302.53L573.88 302.61L574.58 302.69L575.27 302.77L575.97 302.84L576.67 302.92L577.37 302.99L578.06 303.06L578.76 303.13L579.46 303.19L580.15 303.25L580.85 303.31L581.55 303.37L582.25 303.42L582.94 303.47L583.64 303.51L584.34 303.55L585.04 303.59L585.74 303.62L586.43 303.65L587.13 303.67L587.83 303.69L588.52 303.70L589.22 303.72L589.92 303.73L590.62 303.73L591.32 303.74L592.01 303.75L592.71 303.76L593.41 303.76L594.11 303.77L594.80 303.78L595.50 303.78L596.20 303.79L596.89 303.80L597.59 303.80L598.29 303.81L598.99 303.81L599.68 303.82L600.38 303.83L601.08 303.83L601.78 303.84L602.48 303.84L603.17 303.85L603.87 303.85L604.57 303.86L605.26 303.87L605.96 303.87L606.66 303.88L607.36 303.88L608.05 303.89L608.75 303.89L609.45 303.90L610.15 303.90L610.85 303.91L611.54 303.91L612.24 303.91L612.94 303.92L613.63 303.92L614.33 303.93L615.03 303.93L615.73 303.94L616.42 303.94L617.12 303.95L617.82 303.95L618.52 303.95L619.22 303.96L619.91 303.96L620.61 303.97L621.31 303.97L622.00 303.97L622.70 303.98L623.40 303.98L624.10 303.98L624.79 303.99L625.49 303.99L626.19 303.99L626.89 304.00L627.59 304.00L628.28 304.00L628.98 304.01L629.68 304.01L630.38 304.01L631.07 304.02L631.77 304.02L632.47 304.02L633.16 304.03L633.86 304.03L634.56 304.03L635.26 304.03L635.95 304.04L636.65 304.04L637.35 304.04L638.05 304.04L638.75 304.05L639.44 304.05L640.14 304.05L640.84 304.05L641.53 304.05L642.23 304.06L642.93 304.06L643.63 304.06L644.33 304.06L645.02 304.07L645.72 304.07L646.42 304.07L647.12 304.07L647.81 304.07L648.51 304.07L649.21 304.08L649.90 304.08L650.60 304.08L651.30 304.08L652.00 304.08L652.69 304.08L653.39 304.08L654.09 304.09L654.79 304.09L655.49 304.09L656.18 304.09L656.88 304.09L657.58 304.09L658.27 304.09L658.97 304.09L659.67 304.10L660.37 304.10L661.07 304.10L661.76 304.10L662.46 304.10L663.16 304.10L663.86 304.10L664.55 304.10L665.25 304.10L665.95 304.10L666.64 304.10L667.34 304.10L668.04 304.10L668.74 304.10L669.43 304.11L670.13 304.11L670.83 304.11L671.53 304.11L672.22 304.11L672.92 304.11L673.62 304.11L674.32 304.11L675.01 304.11L675.71 304.11L676.41 304.11L677.11 304.11L677.81 304.11L678.50 304.11L679.20 304.11" stroke="#8a44c8" stroke-width="1.15" fill="none" stroke-linejoin="round"/>
<path d="M400.20 299.60L400.90 299.59L401.59 299.58L402.29 299.57L402.99 299.56L403.69 299.55L404.38 299.54L405.08 299.53L405.78 299.51L406.48 299.50L407.18 299.49L407.87 299.48L408.57 299.47L409.27 299.45L409.96 299.44L410.66 299.43L411.36 299.42L412.06 299.41L412.75 299.39L413.45 299.38L414.15 299.37L414.85 299.36L415.55 299.34L416.24 299.33L416.94 299.32L417.64 299.31L418.33 299.29L419.03 299.28L419.73 299.27L420.43 299.25L421.12 299.24L421.82 299.23L422.52 299.21L423.22 299.20L423.91 299.19L424.61 299.17L425.31 299.16L426.01 299.15L426.70 299.13L427.40 299.12L428.10 299.11L428.80 299.09L429.50 299.08L430.19 299.07L430.89 299.05L431.59 299.04L432.28 299.02L432.98 299.01L433.68 299.00L434.38 298.98L435.07 298.97L435.77 298.95L436.47 298.94L437.17 298.92L437.87 298.91L438.56 298.90L439.26 298.88L439.96 298.87L440.65 298.85L441.35 298.84L442.05 298.82L442.75 298.81L443.44 298.79L444.14 298.78L444.84 298.76L445.54 298.75L446.24 298.73L446.93 298.72L447.63 298.70L448.33 298.69L449.02 298.68L449.72 298.66L450.42 298.65L451.12 298.63L451.81 298.62L452.51 298.60L453.21 298.59L453.91 298.57L454.61 298.56L455.30 298.54L456.00 298.53L456.70 298.51L457.39 298.50L458.09 298.48L458.79 298.47L459.49 298.45L460.19 298.44L460.88 298.42L461.58 298.41L462.28 298.39L462.97 298.37L463.67 298.36L464.37 298.34L465.07 298.33L465.76 298.31L466.46 298.29L467.16 298.28L467.86 298.26L468.56 298.24L469.25 298.23L469.95 298.21L470.65 298.19L471.34 298.18L472.04 298.16L472.74 298.14L473.44 298.12L474.13 298.10L474.83 298.09L475.53 298.07L476.23 298.05L476.92 298.03L477.62 298.01L478.32 297.99L479.02 297.97L479.71 297.95L480.41 297.93L481.11 297.91L481.81 297.89L482.50 297.87L483.20 297.85L483.90 297.83L484.60 297.80L485.29 297.78L485.99 297.76L486.69 297.74L487.39 297.71L488.08 297.69L488.78 297.67L489.48 297.64L490.18 297.61L490.88 297.59L491.57 297.56L492.27 297.53L492.97 297.49L493.66 297.46L494.36 297.42L495.06 297.39L495.76 297.35L496.45 297.31L497.15 297.27L497.85 297.22L498.55 297.18L499.25 297.13L499.94 297.09L500.64 297.04L501.34 296.99L502.03 296.95L502.73 296.90L503.43 296.85L504.13 296.80L504.82 296.75L505.52 296.70L506.22 296.65L506.92 296.60L507.62 296.55L508.31 296.50L509.01 296.45L509.71 296.40L510.40 296.35L511.10 296.30L511.80 296.25L512.50 296.21L513.19 296.16L513.89 296.11L514.59 296.07L515.29 296.03L515.99 295.98L516.68 295.94L517.38 295.90L518.08 295.86L518.77 295.83L519.47 295.79L520.17 295.76L520.87 295.72L521.56 295.69L522.26 295.67L522.96 295.64L523.66 295.62L524.36 295.59L525.05 295.57L525.75 295.56L526.45 295.54L527.14 295.53L527.84 295.52L528.54 295.52L529.24 295.52L529.93 295.52L530.63 295.53L531.33 295.55L532.03 295.57L532.73 295.60L533.42 295.64L534.12 295.68L534.82 295.73L535.51 295.79L536.21 295.85L536.91 295.92L537.61 295.99L538.30 296.07L539.00 296.15L539.70 296.24L540.40 296.33L541.10 296.42L541.79 296.52L542.49 296.62L543.19 296.72L543.88 296.82L544.58 296.92L545.28 297.03L545.98 297.13L546.67 297.24L547.37 297.34L548.07 297.45L548.77 297.55L549.47 297.66L550.16 297.78L550.86 297.89L551.56 298.01L552.25 298.14L552.95 298.27L553.65 298.41L554.35 298.55L555.04 298.70L555.74 298.84L556.44 299.00L557.14 299.15L557.84 299.31L558.53 299.47L559.23 299.62L559.93 299.78L560.62 299.94L561.32 300.10L562.02 300.25L562.72 300.40L563.41 300.55L564.11 300.69L564.81 300.83L565.51 300.96L566.20 301.09L566.90 301.21L567.60 301.33L568.30 301.44L569.00 301.54L569.69 301.65L570.39 301.74L571.09 301.84L571.78 301.94L572.48 302.03L573.18 302.12L573.88 302.22L574.58 302.31L575.27 302.40L575.97 302.49L576.67 302.57L577.37 302.66L578.06 302.74L578.76 302.82L579.46 302.89L580.15 302.97L580.85 303.03L581.55 303.10L582.25 303.16L582.94 303.22L583.64 303.27L584.34 303.32L585.04 303.36L585.74 303.40L586.43 303.43L587.13 303.46L587.83 303.48L588.52 303.50L589.22 303.52L589.92 303.54L590.62 303.55L591.32 303.56L592.01 303.57L592.71 303.58L593.41 303.59L594.11 303.60L594.80 303.61L595.50 303.62L596.20 303.63L596.89 303.64L597.59 303.65L598.29 303.66L598.99 303.66L599.68 303.67L600.38 303.68L601.08 303.69L601.78 303.70L602.48 303.71L603.17 303.72L603.87 303.72L604.57 303.73L605.26 303.74L605.96 303.75L606.66 303.76L607.36 303.76L608.05 303.77L608.75 303.78L609.45 303.79L610.15 303.79L610.85 303.80L611.54 303.81L612.24 303.81L612.94 303.82L613.63 303.83L614.33 303.83L615.03 303.84L615.73 303.85L616.42 303.85L617.12 303.86L617.82 303.87L618.52 303.87L619.22 303.88L619.91 303.88L620.61 303.89L621.31 303.90L622.00 303.90L622.70 303.91L623.40 303.91L624.10 303.92L624.79 303.92L625.49 303.93L626.19 303.93L626.89 303.94L627.59 303.94L628.28 303.95L628.98 303.95L629.68 303.96L630.38 303.96L631.07 303.97L631.77 303.97L632.47 303.98L633.16 303.98L633.86 303.98L634.56 303.99L635.26 303.99L635.95 304.00L636.65 304.00L637.35 304.00L638.05 304.01L638.75 304.01L639.44 304.02L640.14 304.02L640.84 304.02L641.53 304.03L642.23 304.03L642.93 304.03L643.63 304.04L644.33 304.04L645.02 304.04L645.72 304.04L646.42 304.05L647.12 304.05L647.81 304.05L648.51 304.05L649.21 304.06L649.90 304.06L650.60 304.06L651.30 304.06L652.00 304.07L652.69 304.07L653.39 304.07L654.09 304.07L654.79 304.08L655.49 304.08L656.18 304.08L656.88 304.08L657.58 304.08L658.27 304.08L658.97 304.09L659.67 304.09L660.37 304.09L661.07 304.09L661.76 304.09L662.46 304.09L663.16 304.09L663.86 304.10L664.55 304.10L665.25 304.10L665.95 304.10L666.64 304.10L667.34 304.10L668.04 304.10L668.74 304.10L669.43 304.10L670.13 304.10L670.83 304.10L671.53 304.11L672.22 304.11L672.92 304.11L673.62 304.11L674.32 304.11L675.01 304.11L675.71 304.11L676.41 304.11L677.11 304.11L677.81 304.11L678.50 304.11L679.20 304.11" stroke="#3f3f68" stroke-width="1.15" fill="none" stroke-linejoin="round"/>
<path d="M400.20 299.11L400.90 299.10L401.59 299.08L402.29 299.06L402.99 299.05L403.69 299.03L404.38 299.01L405.08 298.99L405.78 298.97L406.48 298.95L407.18 298.93L407.87 298.91L408.57 298.89L409.27 298.87L409.96 298.84L410.66 298.82L411.36 298.80L412.06 298.77L412.75 298.74L413.45 298.72L414.15 298.69L414.85 298.67L415.55 298.64L416.24 298.61L416.94 298.58L417.64 298.55L418.33 298.52L419.03 298.49L419.73 298.46L420.43 298.43L421.12 298.40L421.82 298.37L422.52 298.34L423.22 298.31L423.91 298.27L424.61 298.24L425.31 298.21L426.01 298.17L426.70 298.14L427.40 298.11L428.10 298.07L428.80 298.04L429.50 298.00L430.19 297.97L430.89 297.93L431.59 297.89L432.28 297.86L432.98 297.82L433.68 297.78L434.38 297.75L435.07 297.71L435.77 297.67L436.47 297.63L437.17 297.60L437.87 297.56L438.56 297.52L439.26 297.48L439.96 297.44L440.65 297.39L441.35 297.35L442.05 297.31L442.75 297.26L443.44 297.21L444.14 297.16L444.84 297.11L445.54 297.06L446.24 297.00L446.93 296.94L447.63 296.89L448.33 296.83L449.02 296.77L449.72 296.71L450.42 296.65L451.12 296.59L451.81 296.52L452.51 296.46L453.21 296.40L453.91 296.33L454.61 296.27L455.30 296.21L456.00 296.14L456.70 296.08L457.39 296.02L458.09 295.96L458.79 295.90L459.49 295.84L460.19 295.78L460.88 295.72L461.58 295.66L462.28 295.60L462.97 295.55L463.67 295.50L464.37 295.44L465.07 295.39L465.76 295.35L466.46 295.30L467.16 295.26L467.86 295.21L468.56 295.17L469.25 295.13L469.95 295.10L470.65 295.06L471.34 295.03L472.04 295.00L472.74 294.97L473.44 294.94L474.13 294.91L474.83 294.88L475.53 294.86L476.23 294.83L476.92 294.81L477.62 294.78L478.32 294.76L479.02 294.74L479.71 294.71L480.41 294.69L481.11 294.67L481.81 294.64L482.50 294.62L483.20 294.59L483.90 294.57L484.60 294.54L485.29 294.52L485.99 294.49L486.69 294.46L487.39 294.43L488.08 294.40L488.78 294.37L489.48 294.34L490.18 294.30L490.88 294.27L491.57 294.23L492.27 294.20L492.97 294.16L493.66 294.12L494.36 294.08L495.06 294.03L495.76 293.99L496.45 293.95L497.15 293.90L497.85 293.85L498.55 293.81L499.25 293.76L499.94 293.71L500.64 293.66L501.34 293.61L502.03 293.56L502.73 293.51L503.43 293.45L504.13 293.40L504.82 293.34L505.52 293.29L506.22 293.23L506.92 293.17L507.62 293.11L508.31 293.05L509.01 292.99L509.71 292.93L510.40 292.87L511.10 292.80L511.80 292.73L512.50 292.66L513.19 292.58L513.89 292.49L514.59 292.41L515.29 292.31L515.99 292.22L516.68 292.12L517.38 292.01L518.08 291.91L518.77 291.80L519.47 291.69L520.17 291.59L520.87 291.48L521.56 291.38L522.26 291.28L522.96 291.19L523.66 291.10L524.36 291.01L525.05 290.94L525.75 290.87L526.45 290.81L527.14 290.76L527.84 290.71L528.54 290.68L529.24 290.66L529.93 290.65L530.63 290.65L531.33 290.66L532.03 290.68L532.73 290.71L533.42 290.75L534.12 290.79L534.82 290.84L535.51 290.89L536.21 290.95L536.91 291.02L537.61 291.09L538.30 291.16L539.00 291.24L539.70 291.33L540.40 291.43L541.10 291.54L541.79 291.65L542.49 291.78L543.19 291.92L543.88 292.07L544.58 292.23L545.28 292.40L545.98 292.57L546.67 292.74L547.37 292.92L548.07 293.10L548.77 293.29L549.47 293.47L550.16 293.66L550.86 293.85L551.56 294.04L552.25 294.24L552.95 294.44L553.65 294.65L554.35 294.86L555.04 295.08L555.74 295.30L556.44 295.52L557.14 295.74L557.84 295.96L558.53 296.19L559.23 296.42L559.93 296.64L560.62 296.87L561.32 297.09L562.02 297.31L562.72 297.53L563.41 297.75L564.11 297.96L564.81 298.17L565.51 298.38L566.20 298.57L566.90 298.77L567.60 298.96L568.30 299.14L569.00 299.32L569.69 299.49L570.39 299.67L571.09 299.84L571.78 300.01L572.48 300.17L573.18 300.34L573.88 300.51L574.58 300.68L575.27 300.85L575.97 301.01L576.67 301.18L577.37 301.34L578.06 301.49L578.76 301.64L579.46 301.79L580.15 301.93L580.85 302.07L581.55 302.20L582.25 302.32L582.94 302.43L583.64 302.54L584.34 302.63L585.04 302.72L585.74 302.79L586.43 302.86L587.13 302.91L587.83 302.96L588.52 303.00L589.22 303.03L589.92 303.06L590.62 303.08L591.32 303.10L592.01 303.12L592.71 303.14L593.41 303.16L594.11 303.18L594.80 303.20L595.50 303.21L596.20 303.23L596.89 303.25L597.59 303.26L598.29 303.28L598.99 303.30L599.68 303.31L600.38 303.33L601.08 303.34L601.78 303.36L602.48 303.38L603.17 303.39L603.87 303.41L604.57 303.42L605.26 303.43L605.96 303.45L606.66 303.46L607.36 303.48L608.05 303.49L608.75 303.51L609.45 303.52L610.15 303.53L610.85 303.55L611.54 303.56L612.24 303.57L612.94 303.58L613.63 303.60L614.33 303.61L615.03 303.62L615.73 303.63L616.42 303.64L617.12 303.66L617.82 303.67L618.52 303.68L619.22 303.69L619.91 303.70L620.61 303.71L621.31 303.72L622.00 303.73L622.70 303.74L623.40 303.75L624.10 303.76L624.79 303.77L625.49 303.78L626.19 303.79L626.89 303.80L627.59 303.81L628.28 303.82L628.98 303.83L629.68 303.83L630.38 303.84L631.07 303.85L631.77 303.86L632.47 303.87L633.16 303.88L633.86 303.88L634.56 303.89L635.26 303.90L635.95 303.90L636.65 303.91L637.35 303.92L638.05 303.93L638.75 303.93L639.44 303.94L640.14 303.95L640.84 303.95L641.53 303.96L642.23 303.96L642.93 303.97L643.63 303.98L644.33 303.98L645.02 303.99L645.72 303.99L646.42 304.00L647.12 304.00L647.81 304.01L648.51 304.01L649.21 304.02L649.90 304.02L650.60 304.02L651.30 304.03L652.00 304.03L652.69 304.04L653.39 304.04L654.09 304.04L654.79 304.05L655.49 304.05L656.18 304.06L656.88 304.06L657.58 304.06L658.27 304.06L658.97 304.07L659.67 304.07L660.37 304.07L661.07 304.08L661.76 304.08L662.46 304.08L663.16 304.08L663.86 304.09L664.55 304.09L665.25 304.09L665.95 304.09L666.64 304.09L667.34 304.09L668.04 304.10L668.74 304.10L669.43 304.10L670.13 304.10L670.83 304.10L671.53 304.10L672.22 304.10L672.92 304.10L673.62 304.11L674.32 304.11L675.01 304.11L675.71 304.11L676.41 304.11L677.11 304.11L677.81 304.11L678.50 304.11L679.20 304.11" stroke="#3f8f4f" stroke-width="1.15" fill="none" stroke-linejoin="round"/>
<path d="M400.20 297.44L400.90 297.43L401.59 297.41L402.29 297.39L402.99 297.36L403.69 297.34L404.38 297.32L405.08 297.29L405.78 297.26L406.48 297.23L407.18 297.20L407.87 297.17L408.57 297.13L409.27 297.10L409.96 297.06L410.66 297.02L411.36 296.98L412.06 296.94L412.75 296.90L413.45 296.85L414.15 296.81L414.85 296.76L415.55 296.71L416.24 296.66L416.94 296.61L417.64 296.56L418.33 296.51L419.03 296.46L419.73 296.40L420.43 296.35L421.12 296.29L421.82 296.23L422.52 296.17L423.22 296.11L423.91 296.05L424.61 295.99L425.31 295.93L426.01 295.87L426.70 295.81L427.40 295.74L428.10 295.68L428.80 295.61L429.50 295.55L430.19 295.48L430.89 295.41L431.59 295.35L432.28 295.28L432.98 295.21L433.68 295.14L434.38 295.07L435.07 295.00L435.77 294.93L436.47 294.86L437.17 294.79L437.87 294.71L438.56 294.64L439.26 294.56L439.96 294.48L440.65 294.40L441.35 294.32L442.05 294.23L442.75 294.14L443.44 294.05L444.14 293.95L444.84 293.84L445.54 293.74L446.24 293.63L446.93 293.51L447.63 293.40L448.33 293.28L449.02 293.15L449.72 293.03L450.42 292.90L451.12 292.78L451.81 292.65L452.51 292.52L453.21 292.38L453.91 292.25L454.61 292.12L455.30 291.99L456.00 291.85L456.70 291.72L457.39 291.59L458.09 291.46L458.79 291.33L459.49 291.20L460.19 291.07L460.88 290.95L461.58 290.83L462.28 290.71L462.97 290.59L463.67 290.47L464.37 290.36L465.07 290.25L465.76 290.15L466.46 290.05L467.16 289.95L467.86 289.86L468.56 289.77L469.25 289.69L469.95 289.61L470.65 289.53L471.34 289.46L472.04 289.39L472.74 289.32L473.44 289.26L474.13 289.20L474.83 289.14L475.53 289.08L476.23 289.02L476.92 288.97L477.62 288.91L478.32 288.86L479.02 288.81L479.71 288.75L480.41 288.70L481.11 288.65L481.81 288.59L482.50 288.54L483.20 288.49L483.90 288.43L484.60 288.37L485.29 288.31L485.99 288.25L486.69 288.19L487.39 288.12L488.08 288.05L488.78 287.98L489.48 287.91L490.18 287.83L490.88 287.75L491.57 287.67L492.27 287.59L492.97 287.50L493.66 287.42L494.36 287.33L495.06 287.24L495.76 287.15L496.45 287.05L497.15 286.95L497.85 286.85L498.55 286.75L499.25 286.65L499.94 286.54L500.64 286.43L501.34 286.31L502.03 286.19L502.73 286.07L503.43 285.95L504.13 285.82L504.82 285.68L505.52 285.55L506.22 285.40L506.92 285.26L507.62 285.10L508.31 284.94L509.01 284.77L509.71 284.59L510.40 284.39L511.10 284.18L511.80 283.96L512.50 283.72L513.19 283.46L513.89 283.19L514.59 282.91L515.29 282.63L515.99 282.33L516.68 282.03L517.38 281.74L518.08 281.44L518.77 281.15L519.47 280.86L520.17 280.58L520.87 280.31L521.56 280.04L522.26 279.77L522.96 279.50L523.66 279.24L524.36 278.98L525.05 278.72L525.75 278.47L526.45 278.23L527.14 278.01L527.84 277.80L528.54 277.62L529.24 277.47L529.93 277.35L530.63 277.27L531.33 277.22L532.03 277.22L532.73 277.25L533.42 277.32L534.12 277.43L534.82 277.56L535.51 277.73L536.21 277.92L536.91 278.13L537.61 278.35L538.30 278.59L539.00 278.84L539.70 279.11L540.40 279.39L541.10 279.68L541.79 279.99L542.49 280.32L543.19 280.67L543.88 281.03L544.58 281.42L545.28 281.82L545.98 282.23L546.67 282.66L547.37 283.11L548.07 283.57L548.77 284.06L549.47 284.57L550.16 285.10L550.86 285.66L551.56 286.24L552.25 286.85L552.95 287.49L553.65 288.14L554.35 288.80L555.04 289.46L555.74 290.11L556.44 290.75L557.14 291.37L557.84 291.96L558.53 292.52L559.23 293.05L559.93 293.54L560.62 294.01L561.32 294.45L562.02 294.86L562.72 295.25L563.41 295.63L564.11 295.99L564.81 296.34L565.51 296.67L566.20 297.00L566.90 297.32L567.60 297.63L568.30 297.93L569.00 298.23L569.69 298.53L570.39 298.82L571.09 299.11L571.78 299.40L572.48 299.69L573.18 299.98L573.88 300.26L574.58 300.53L575.27 300.80L575.97 301.05L576.67 301.29L577.37 301.52L578.06 301.72L578.76 301.91L579.46 302.08L580.15 302.22L580.85 302.35L581.55 302.46L582.25 302.56L582.94 302.64L583.64 302.71L584.34 302.78L585.04 302.84L585.74 302.90L586.43 302.96L587.13 303.01L587.83 303.06L588.52 303.11L589.22 303.16L589.92 303.21L590.62 303.26L591.32 303.30L592.01 303.34L592.71 303.38L593.41 303.42L594.11 303.46L594.80 303.50L595.50 303.53L596.20 303.56L596.89 303.60L597.59 303.63L598.29 303.65L598.99 303.68L599.68 303.71L600.38 303.73L601.08 303.75L601.78 303.77L602.48 303.79L603.17 303.81L603.87 303.83L604.57 303.84L605.26 303.85L605.96 303.87L606.66 303.88L607.36 303.89L608.05 303.90L608.75 303.90L609.45 303.91L610.15 303.91L610.85 303.92L611.54 303.92L612.24 303.93L612.94 303.93L613.63 303.94L614.33 303.94L615.03 303.94L615.73 303.95L616.42 303.95L617.12 303.96L617.82 303.96L618.52 303.96L619.22 303.97L619.91 303.97L620.61 303.97L621.31 303.98L622.00 303.98L622.70 303.98L623.40 303.99L624.10 303.99L624.79 303.99L625.49 304.00L626.19 304.00L626.89 304.00L627.59 304.01L628.28 304.01L628.98 304.01L629.68 304.01L630.38 304.02L631.07 304.02L631.77 304.02L632.47 304.03L633.16 304.03L633.86 304.03L634.56 304.03L635.26 304.04L635.95 304.04L636.65 304.04L637.35 304.04L638.05 304.04L638.75 304.05L639.44 304.05L640.14 304.05L640.84 304.05L641.53 304.06L642.23 304.06L642.93 304.06L643.63 304.06L644.33 304.06L645.02 304.07L645.72 304.07L646.42 304.07L647.12 304.07L647.81 304.07L648.51 304.07L649.21 304.08L649.90 304.08L650.60 304.08L651.30 304.08L652.00 304.08L652.69 304.08L653.39 304.08L654.09 304.09L654.79 304.09L655.49 304.09L656.18 304.09L656.88 304.09L657.58 304.09L658.27 304.09L658.97 304.09L659.67 304.09L660.37 304.10L661.07 304.10L661.76 304.10L662.46 304.10L663.16 304.10L663.86 304.10L664.55 304.10L665.25 304.10L665.95 304.10L666.64 304.10L667.34 304.10L668.04 304.10L668.74 304.10L669.43 304.10L670.13 304.11L670.83 304.11L671.53 304.11L672.22 304.11L672.92 304.11L673.62 304.11L674.32 304.11L675.01 304.11L675.71 304.11L676.41 304.11L677.11 304.11L677.81 304.11L678.50 304.11L679.20 304.11" stroke="#c455d2" stroke-width="1.15" fill="none" stroke-linejoin="round"/>
<path d="M400.20 295.09L400.90 295.02L401.59 294.94L402.29 294.86L402.99 294.78L403.69 294.70L404.38 294.62L405.08 294.54L405.78 294.45L406.48 294.37L407.18 294.28L407.87 294.19L408.57 294.10L409.27 294.00L409.96 293.91L410.66 293.82L411.36 293.72L412.06 293.62L412.75 293.52L413.45 293.42L414.15 293.32L414.85 293.22L415.55 293.12L416.24 293.01L416.94 292.91L417.64 292.80L418.33 292.69L419.03 292.59L419.73 292.48L420.43 292.37L421.12 292.26L421.82 292.15L422.52 292.04L423.22 291.92L423.91 291.81L424.61 291.70L425.31 291.58L426.01 291.46L426.70 291.35L427.40 291.23L428.10 291.10L428.80 290.98L429.50 290.85L430.19 290.73L430.89 290.59L431.59 290.46L432.28 290.32L432.98 290.18L433.68 290.04L434.38 289.89L435.07 289.74L435.77 289.59L436.47 289.43L437.17 289.27L437.87 289.10L438.56 288.93L439.26 288.75L439.96 288.57L440.65 288.38L441.35 288.18L442.05 287.97L442.75 287.76L443.44 287.54L444.14 287.31L444.84 287.07L445.54 286.82L446.24 286.57L446.93 286.31L447.63 286.05L448.33 285.77L449.02 285.50L449.72 285.21L450.42 284.92L451.12 284.62L451.81 284.32L452.51 284.02L453.21 283.70L453.91 283.39L454.61 283.07L455.30 282.75L456.00 282.42L456.70 282.08L457.39 281.75L458.09 281.40L458.79 281.04L459.49 280.68L460.19 280.30L460.88 279.91L461.58 279.50L462.28 279.08L462.97 278.64L463.67 278.20L464.37 277.76L465.07 277.32L465.76 276.88L466.46 276.46L467.16 276.05L467.86 275.66L468.56 275.30L469.25 274.95L469.95 274.63L470.65 274.33L471.34 274.04L472.04 273.77L472.74 273.52L473.44 273.27L474.13 273.04L474.83 272.82L475.53 272.62L476.23 272.42L476.92 272.25L477.62 272.08L478.32 271.93L479.02 271.80L479.71 271.68L480.41 271.58L481.11 271.49L481.81 271.40L482.50 271.33L483.20 271.26L483.90 271.20L484.60 271.14L485.29 271.08L485.99 271.02L486.69 270.95L487.39 270.87L488.08 270.78L488.78 270.68L489.48 270.56L490.18 270.43L490.88 270.27L491.57 270.09L492.27 269.88L492.97 269.65L493.66 269.39L494.36 269.11L495.06 268.80L495.76 268.48L496.45 268.13L497.15 267.76L497.85 267.37L498.55 266.95L499.25 266.51L499.94 266.03L500.64 265.52L501.34 264.97L502.03 264.38L502.73 263.75L503.43 263.08L504.13 262.37L504.82 261.62L505.52 260.85L506.22 260.06L506.92 259.24L507.62 258.40L508.31 257.55L509.01 256.68L509.71 255.78L510.40 254.86L511.10 253.92L511.80 252.95L512.50 251.95L513.19 250.94L513.89 249.91L514.59 248.89L515.29 247.87L515.99 246.88L516.68 245.92L517.38 245.00L518.08 244.13L518.77 243.32L519.47 242.56L520.17 241.85L520.87 241.20L521.56 240.60L522.26 240.04L522.96 239.53L523.66 239.06L524.36 238.64L525.05 238.26L525.75 237.93L526.45 237.64L527.14 237.39L527.84 237.18L528.54 237.00L529.24 236.86L529.93 236.75L530.63 236.69L531.33 236.67L532.03 236.71L532.73 236.80L533.42 236.96L534.12 237.19L534.82 237.48L535.51 237.83L536.21 238.26L536.91 238.74L537.61 239.30L538.30 239.94L539.00 240.65L539.70 241.46L540.40 242.37L541.10 243.38L541.79 244.52L542.49 245.78L543.19 247.16L543.88 248.67L544.58 250.29L545.28 251.99L545.98 253.76L546.67 255.56L547.37 257.38L548.07 259.19L548.77 260.96L549.47 262.70L550.16 264.39L550.86 266.04L551.56 267.65L552.25 269.23L552.95 270.77L553.65 272.28L554.35 273.76L555.04 275.19L555.74 276.58L556.44 277.92L557.14 279.21L557.84 280.44L558.53 281.60L559.23 282.71L559.93 283.76L560.62 284.76L561.32 285.71L562.02 286.62L562.72 287.48L563.41 288.31L564.11 289.11L564.81 289.87L565.51 290.60L566.20 291.31L566.90 291.98L567.60 292.63L568.30 293.25L569.00 293.84L569.69 294.42L570.39 294.97L571.09 295.51L571.78 296.03L572.48 296.53L573.18 297.01L573.88 297.48L574.58 297.92L575.27 298.34L575.97 298.74L576.67 299.11L577.37 299.45L578.06 299.77L578.76 300.06L579.46 300.33L580.15 300.58L580.85 300.81L581.55 301.02L582.25 301.23L582.94 301.42L583.64 301.61L584.34 301.79L585.04 301.96L585.74 302.13L586.43 302.29L587.13 302.44L587.83 302.58L588.52 302.71L589.22 302.84L589.92 302.95L590.62 303.06L591.32 303.15L592.01 303.23L592.71 303.30L593.41 303.36L594.11 303.41L594.80 303.45L595.50 303.49L596.20 303.51L596.89 303.53L597.59 303.55L598.29 303.56L598.99 303.58L599.68 303.59L600.38 303.60L601.08 303.61L601.78 303.62L602.48 303.63L603.17 303.64L603.87 303.65L604.57 303.66L605.26 303.67L605.96 303.68L606.66 303.69L607.36 303.70L608.05 303.71L608.75 303.72L609.45 303.73L610.15 303.74L610.85 303.75L611.54 303.76L612.24 303.77L612.94 303.77L613.63 303.78L614.33 303.79L615.03 303.80L615.73 303.81L616.42 303.81L617.12 303.82L617.82 303.83L618.52 303.84L619.22 303.84L619.91 303.85L620.61 303.86L621.31 303.87L622.00 303.87L622.70 303.88L623.40 303.89L624.10 303.89L624.79 303.90L625.49 303.90L626.19 303.91L626.89 303.92L627.59 303.92L628.28 303.93L628.98 303.93L629.68 303.94L630.38 303.94L631.07 303.95L631.77 303.96L632.47 303.96L633.16 303.97L633.86 303.97L634.56 303.98L635.26 303.98L635.95 303.98L636.65 303.99L637.35 303.99L638.05 304.00L638.75 304.00L639.44 304.01L640.14 304.01L640.84 304.01L641.53 304.02L642.23 304.02L642.93 304.03L643.63 304.03L644.33 304.03L645.02 304.04L645.72 304.04L646.42 304.04L647.12 304.05L647.81 304.05L648.51 304.05L649.21 304.05L649.90 304.06L650.60 304.06L651.30 304.06L652.00 304.06L652.69 304.07L653.39 304.07L654.09 304.07L654.79 304.07L655.49 304.08L656.18 304.08L656.88 304.08L657.58 304.08L658.27 304.08L658.97 304.09L659.67 304.09L660.37 304.09L661.07 304.09L661.76 304.09L662.46 304.09L663.16 304.09L663.86 304.10L664.55 304.10L665.25 304.10L665.95 304.10L666.64 304.10L667.34 304.10L668.04 304.10L668.74 304.10L669.43 304.10L670.13 304.10L670.83 304.10L671.53 304.11L672.22 304.11L672.92 304.11L673.62 304.11L674.32 304.11L675.01 304.11L675.71 304.11L676.41 304.11L677.11 304.11L677.81 304.11L678.50 304.11L679.20 304.11" stroke="#414c9e" stroke-width="1.15" fill="none" stroke-linejoin="round"/>
<path d="M400.20 290.00L400.90 289.90L401.59 289.81L402.29 289.70L402.99 289.60L403.69 289.50L404.38 289.39L405.08 289.28L405.78 289.17L406.48 289.06L407.18 288.95L407.87 288.83L408.57 288.71L409.27 288.59L409.96 288.47L410.66 288.35L411.36 288.22L412.06 288.10L412.75 287.97L413.45 287.84L414.15 287.71L414.85 287.57L415.55 287.44L416.24 287.30L416.94 287.17L417.64 287.03L418.33 286.89L419.03 286.75L419.73 286.61L420.43 286.47L421.12 286.33L421.82 286.18L422.52 286.04L423.22 285.89L423.91 285.75L424.61 285.60L425.31 285.46L426.01 285.31L426.70 285.15L427.40 285.00L428.10 284.84L428.80 284.68L429.50 284.52L430.19 284.36L430.89 284.19L431.59 284.01L432.28 283.83L432.98 283.65L433.68 283.46L434.38 283.27L435.07 283.07L435.77 282.87L436.47 282.66L437.17 282.44L437.87 282.21L438.56 281.98L439.26 281.73L439.96 281.47L440.65 281.20L441.35 280.92L442.05 280.62L442.75 280.31L443.44 279.98L444.14 279.64L444.84 279.28L445.54 278.90L446.24 278.52L446.93 278.12L447.63 277.71L448.33 277.29L449.02 276.86L449.72 276.42L450.42 275.98L451.12 275.52L451.81 275.06L452.51 274.59L453.21 274.12L453.91 273.64L454.61 273.16L455.30 272.67L456.00 272.19L456.70 271.70L457.39 271.20L458.09 270.71L458.79 270.21L459.49 269.70L460.19 269.19L460.88 268.66L461.58 268.13L462.28 267.58L462.97 267.03L463.67 266.47L464.37 265.90L465.07 265.33L465.76 264.77L466.46 264.21L467.16 263.66L467.86 263.12L468.56 262.60L469.25 262.08L469.95 261.57L470.65 261.08L471.34 260.60L472.04 260.12L472.74 259.65L473.44 259.20L474.13 258.75L474.83 258.32L475.53 257.91L476.23 257.51L476.92 257.14L477.62 256.79L478.32 256.46L479.02 256.16L479.71 255.88L480.41 255.63L481.11 255.40L481.81 255.19L482.50 255.00L483.20 254.81L483.90 254.64L484.60 254.47L485.29 254.31L485.99 254.15L486.69 253.98L487.39 253.80L488.08 253.62L488.78 253.43L489.48 253.23L490.18 253.01L490.88 252.79L491.57 252.55L492.27 252.30L492.97 252.04L493.66 251.77L494.36 251.48L495.06 251.18L495.76 250.86L496.45 250.51L497.15 250.14L497.85 249.74L498.55 249.30L499.25 248.81L499.94 248.28L500.64 247.69L501.34 247.03L502.03 246.31L502.73 245.53L503.43 244.68L504.13 243.77L504.82 242.80L505.52 241.78L506.22 240.71L506.92 239.60L507.62 238.45L508.31 237.26L509.01 236.02L509.71 234.73L510.40 233.39L511.10 231.98L511.80 230.51L512.50 228.98L513.19 227.40L513.89 225.77L514.59 224.12L515.29 222.45L515.99 220.79L516.68 219.15L517.38 217.54L518.08 215.98L518.77 214.47L519.47 213.02L520.17 211.63L520.87 210.31L521.56 209.05L522.26 207.85L522.96 206.74L523.66 205.71L524.36 204.77L525.05 203.93L525.75 203.17L526.45 202.51L527.14 201.93L527.84 201.42L528.54 201.00L529.24 200.66L529.93 200.40L530.63 200.23L531.33 200.15L532.03 200.18L532.73 200.31L533.42 200.55L534.12 200.88L534.82 201.30L535.51 201.81L536.21 202.41L536.91 203.09L537.61 203.85L538.30 204.72L539.00 205.69L539.70 206.79L540.40 208.02L541.10 209.40L541.79 210.95L542.49 212.67L543.19 214.58L543.88 216.66L544.58 218.91L545.28 221.29L545.98 223.77L546.67 226.33L547.37 228.92L548.07 231.51L548.77 234.09L549.47 236.63L550.16 239.14L550.86 241.61L551.56 244.04L552.25 246.45L552.95 248.82L553.65 251.17L554.35 253.48L555.04 255.75L555.74 257.97L556.44 260.13L557.14 262.23L557.84 264.26L558.53 266.21L559.23 268.10L559.93 269.91L560.62 271.66L561.32 273.35L562.02 274.98L562.72 276.56L563.41 278.10L564.11 279.58L564.81 281.00L565.51 282.37L566.20 283.69L566.90 284.94L567.60 286.14L568.30 287.27L569.00 288.35L569.69 289.38L570.39 290.36L571.09 291.30L571.78 292.19L572.48 293.05L573.18 293.88L573.88 294.66L574.58 295.40L575.27 296.10L575.97 296.75L576.67 297.35L577.37 297.89L578.06 298.39L578.76 298.83L579.46 299.22L580.15 299.58L580.85 299.90L581.55 300.19L582.25 300.47L582.94 300.72L583.64 300.97L584.34 301.20L585.04 301.42L585.74 301.63L586.43 301.82L587.13 302.01L587.83 302.19L588.52 302.35L589.22 302.50L589.92 302.64L590.62 302.77L591.32 302.88L592.01 302.98L592.71 303.06L593.41 303.14L594.11 303.20L594.80 303.24L595.50 303.28L596.20 303.32L596.89 303.34L597.59 303.36L598.29 303.38L598.99 303.40L599.68 303.42L600.38 303.43L601.08 303.44L601.78 303.46L602.48 303.47L603.17 303.49L603.87 303.50L604.57 303.51L605.26 303.53L605.96 303.54L606.66 303.55L607.36 303.57L608.05 303.58L608.75 303.59L609.45 303.60L610.15 303.62L610.85 303.63L611.54 303.64L612.24 303.65L612.94 303.66L613.63 303.67L614.33 303.68L615.03 303.69L615.73 303.70L616.42 303.72L617.12 303.73L617.82 303.74L618.52 303.75L619.22 303.76L619.91 303.76L620.61 303.77L621.31 303.78L622.00 303.79L622.70 303.80L623.40 303.81L624.10 303.82L624.79 303.83L625.49 303.84L626.19 303.84L626.89 303.85L627.59 303.86L628.28 303.87L628.98 303.87L629.68 303.88L630.38 303.89L631.07 303.90L631.77 303.90L632.47 303.91L633.16 303.92L633.86 303.92L634.56 303.93L635.26 303.94L635.95 303.94L636.65 303.95L637.35 303.95L638.05 303.96L638.75 303.97L639.44 303.97L640.14 303.98L640.84 303.98L641.53 303.99L642.23 303.99L642.93 304.00L643.63 304.00L644.33 304.01L645.02 304.01L645.72 304.02L646.42 304.02L647.12 304.02L647.81 304.03L648.51 304.03L649.21 304.04L649.90 304.04L650.60 304.04L651.30 304.05L652.00 304.05L652.69 304.05L653.39 304.06L654.09 304.06L654.79 304.06L655.49 304.06L656.18 304.07L656.88 304.07L657.58 304.07L658.27 304.07L658.97 304.08L659.67 304.08L660.37 304.08L661.07 304.08L661.76 304.09L662.46 304.09L663.16 304.09L663.86 304.09L664.55 304.09L665.25 304.09L665.95 304.10L666.64 304.10L667.34 304.10L668.04 304.10L668.74 304.10L669.43 304.10L670.13 304.10L670.83 304.10L671.53 304.10L672.22 304.10L672.92 304.11L673.62 304.11L674.32 304.11L675.01 304.11L675.71 304.11L676.41 304.11L677.11 304.11L677.81 304.11L678.50 304.11L679.20 304.11" stroke="#b4524f" stroke-width="1.15" fill="none" stroke-linejoin="round"/>
<path d="M400.20 291.18L400.90 290.77L401.59 290.36L402.29 289.94L402.99 289.52L403.69 289.09L404.38 288.66L405.08 288.24L405.78 287.80L406.48 287.37L407.18 286.93L407.87 286.49L408.57 286.05L409.27 285.61L409.96 285.16L410.66 284.71L411.36 284.26L412.06 283.80L412.75 283.35L413.45 282.89L414.15 282.43L414.85 281.96L415.55 281.50L416.24 281.03L416.94 280.56L417.64 280.08L418.33 279.61L419.03 279.13L419.73 278.65L420.43 278.17L421.12 277.70L421.82 277.22L422.52 276.75L423.22 276.28L423.91 275.81L424.61 275.34L425.31 274.87L426.01 274.40L426.70 273.93L427.40 273.45L428.10 272.97L428.80 272.48L429.50 271.99L430.19 271.50L430.89 270.99L431.59 270.49L432.28 269.97L432.98 269.44L433.68 268.90L434.38 268.36L435.07 267.80L435.77 267.23L436.47 266.65L437.17 266.06L437.87 265.45L438.56 264.83L439.26 264.19L439.96 263.54L440.65 262.87L441.35 262.19L442.05 261.49L442.75 260.77L443.44 260.02L444.14 259.25L444.84 258.46L445.54 257.63L446.24 256.76L446.93 255.86L447.63 254.92L448.33 253.94L449.02 252.91L449.72 251.82L450.42 250.64L451.12 249.36L451.81 247.98L452.51 246.49L453.21 244.91L453.91 243.25L454.61 241.54L455.30 239.77L456.00 237.97L456.70 236.14L457.39 234.31L458.09 232.47L458.79 230.65L459.49 228.85L460.19 227.03L460.88 225.17L461.58 223.24L462.28 221.25L462.97 219.23L463.67 217.18L464.37 215.14L465.07 213.10L465.76 211.10L466.46 209.15L467.16 207.27L467.86 205.48L468.56 203.79L469.25 202.23L469.95 200.78L470.65 199.44L471.34 198.17L472.04 196.97L472.74 195.82L473.44 194.71L474.13 193.64L474.83 192.61L475.53 191.61L476.23 190.63L476.92 189.67L477.62 188.72L478.32 187.78L479.02 186.84L479.71 185.93L480.41 185.04L481.11 184.17L481.81 183.32L482.50 182.49L483.20 181.66L483.90 180.84L484.60 180.02L485.29 179.20L485.99 178.41L486.69 177.64L487.39 176.89L488.08 176.11L488.78 175.28L489.48 174.36L490.18 173.33L490.88 172.17L491.57 170.88L492.27 169.48L492.97 167.96L493.66 166.33L494.36 164.59L495.06 162.76L495.76 160.84L496.45 158.81L497.15 156.63L497.85 154.27L498.55 151.69L499.25 148.90L499.94 145.92L500.64 142.76L501.34 139.37L502.03 135.67L502.73 131.64L503.43 127.38L504.13 123.01L504.82 118.69L505.52 114.50L506.22 110.48L506.92 106.56L507.62 102.71L508.31 98.90L509.01 95.13L509.71 91.38L510.40 87.65L511.10 83.96L511.80 80.30L512.50 76.64L513.19 72.97L513.89 69.27L514.59 65.53L515.29 61.76L515.99 57.97L516.68 54.13L517.38 50.14L518.08 45.93L518.77 41.80L519.47 38.36L520.17 36.01L520.87 34.61L521.56 33.55L522.26 32.15L522.96 29.98L523.66 27.43L524.36 25.54L525.05 24.64L525.75 24.11L526.45 23.38L527.14 22.41L527.84 21.47L528.54 20.92L529.24 20.83L529.93 21.13L530.63 21.86L531.33 23.27L532.03 25.42L532.73 28.04L533.42 30.85L534.12 33.84L534.82 36.99L535.51 40.20L536.21 43.39L536.91 46.62L537.61 50.20L538.30 54.56L539.00 59.95L539.70 66.17L540.40 72.88L541.10 79.92L541.79 87.20L542.49 94.56L543.19 101.82L543.88 108.90L544.58 115.83L545.28 122.66L545.98 129.40L546.67 136.05L547.37 142.62L548.07 149.09L548.77 155.47L549.47 161.77L550.16 168.00L550.86 174.15L551.56 180.23L552.25 186.24L552.95 192.18L553.65 198.09L554.35 203.98L555.04 209.83L555.74 215.53L556.44 220.94L557.14 225.98L557.84 230.66L558.53 235.04L559.23 239.19L559.93 243.14L560.62 246.94L561.32 250.63L562.02 254.26L562.72 257.85L563.41 261.37L564.11 264.76L564.81 267.97L565.51 270.94L566.20 273.61L566.90 275.98L567.60 278.12L568.30 280.09L569.00 281.95L569.69 283.69L570.39 285.32L571.09 286.83L571.78 288.23L572.48 289.51L573.18 290.68L573.88 291.74L574.58 292.72L575.27 293.65L575.97 294.54L576.67 295.39L577.37 296.19L578.06 296.94L578.76 297.62L579.46 298.25L580.15 298.80L580.85 299.27L581.55 299.67L582.25 300.00L582.94 300.30L583.64 300.57L584.34 300.83L585.04 301.08L585.74 301.32L586.43 301.55L587.13 301.76L587.83 301.96L588.52 302.15L589.22 302.32L589.92 302.49L590.62 302.64L591.32 302.77L592.01 302.90L592.71 303.01L593.41 303.11L594.11 303.19L594.80 303.26L595.50 303.32L596.20 303.37L596.89 303.42L597.59 303.47L598.29 303.51L598.99 303.55L599.68 303.59L600.38 303.63L601.08 303.66L601.78 303.70L602.48 303.73L603.17 303.76L603.87 303.78L604.57 303.81L605.26 303.83L605.96 303.85L606.66 303.87L607.36 303.88L608.05 303.89L608.75 303.90L609.45 303.91L610.15 303.92L610.85 303.93L611.54 303.93L612.24 303.94L612.94 303.94L613.63 303.95L614.33 303.96L615.03 303.96L615.73 303.97L616.42 303.97L617.12 303.98L617.82 303.98L618.52 303.99L619.22 304.00L619.91 304.00L620.61 304.01L621.31 304.01L622.00 304.02L622.70 304.02L623.40 304.03L624.10 304.03L624.79 304.04L625.49 304.04L626.19 304.05L626.89 304.05L627.59 304.05L628.28 304.06L628.98 304.06L629.68 304.07L630.38 304.07L631.07 304.08L631.77 304.08L632.47 304.08L633.16 304.09L633.86 304.09L634.56 304.10L635.26 304.10L635.95 304.10L636.65 304.11L637.35 304.11L638.05 304.11L638.75 304.12L639.44 304.12L640.14 304.12L640.84 304.13L641.53 304.13L642.23 304.13L642.93 304.14L643.63 304.14L644.33 304.14L645.02 304.14L645.72 304.15L646.42 304.15L647.12 304.15L647.81 304.15L648.51 304.16L649.21 304.16L649.90 304.16L650.60 304.16L651.30 304.17L652.00 304.17L652.69 304.17L653.39 304.17L654.09 304.17L654.79 304.18L655.49 304.18L656.18 304.18L656.88 304.18L657.58 304.18L658.27 304.18L658.97 304.19L659.67 304.19L660.37 304.19L661.07 304.19L661.76 304.19L662.46 304.19L663.16 304.19L663.86 304.19L664.55 304.20L665.25 304.20L665.95 304.20L666.64 304.20L667.34 304.20L668.04 304.20L668.74 304.20L669.43 304.20L670.13 304.20L670.83 304.20L671.53 304.20L672.22 304.20L672.92 304.20L673.62 304.20L674.32 304.21L675.01 304.21L675.71 304.21L676.41 304.21L677.11 304.21L677.81 304.21L678.50 304.21L679.20 304.21" stroke="#2e2e2e" stroke-width="1.15" fill="none" stroke-linejoin="round"/>
<path d="M400.3 10.0H679.1V305.4" stroke="#6a6a6a" stroke-width="1.3" fill="none"/>
<path d="M400.3 10.0V305.4" stroke="#777" stroke-width="1.3" fill="none"/>
<path d="M399.7 305.4H679.7" stroke="#4a4a4a" stroke-width="1.3" fill="none"/>
<text x="397" y="308.1" text-anchor="end" font-family='"Liberation Sans", sans-serif' font-weight="bold" font-size="10">0.0</text>
<text x="397" y="288.5" text-anchor="end" font-family='"Liberation Sans", sans-serif' font-weight="bold" font-size="10">0.2</text>
<text x="397" y="268.9" text-anchor="end" font-family='"Liberation Sans", sans-serif' font-weight="bold" font-size="10">0.4</text>
<text x="397" y="249.4" text-anchor="end" font-family='"Liberation Sans", sans-serif' font-weight="bold" font-size="10">0.6</text>
<text x="397" y="229.8" text-anchor="end" font-family='"Liberation Sans", sans-serif' font-weight="bold" font-size="10">0.8</text>
<text x="397" y="210.2" text-anchor="end" font-family='"Liberation Sans", sans-serif' font-weight="bold" font-size="10">1.0</text>
<text x="397" y="190.6" text-anchor="end" font-family='"Liberation Sans", sans-serif' font-weight="bold" font-size="10">1.2</text>
<text x="397" y="171.0" text-anchor="end" font-family='"Liberation Sans", sans-serif' font-weight="bold" font-size="10">1.4</text>
<text x="397" y="151.5" text-anchor="end" font-family='"Liberation Sans", sans-serif' font-weight="bold" font-size="10">1.6</text>
<text x="397" y="131.9" text-anchor="end" font-family='"Liberation Sans", sans-serif' font-weight="bold" font-size="10">1.8</text>
<text x="397" y="112.3" text-anchor="end" font-family='"Liberation Sans", sans-serif' font-weight="bold" font-size="10">2.0</text>
<text x="397" y="92.7" text-anchor="end" font-family='"Liberation Sans", sans-serif' font-weight="bold" font-size="10">2.2</text>
<text x="397" y="73.1" text-anchor="end" font-family='"Liberation Sans", sans-serif' font-weight="bold" font-size="10">2.4</text>
<text x="397" y="53.6" text-anchor="end" font-family='"Liberation Sans", sans-serif' font-weight="bold" font-size="10">2.6</text>
<text x="397" y="34.0" text-anchor="end" font-family='"Liberation Sans", sans-serif' font-weight="bold" font-size="10">2.8</text>
<text x="397" y="14.4" text-anchor="end" font-family='"Liberation Sans", sans-serif' font-weight="bold" font-size="10">3.0</text>
<text x="414.1" y="315.9" text-anchor="middle" font-family='"Liberation Sans", sans-serif' font-weight="bold" font-size="10">460</text>
<text x="442.1" y="315.9" text-anchor="middle" font-family='"Liberation Sans", sans-serif' font-weight="bold" font-size="10">480</text>
<text x="469.9" y="315.9" text-anchor="middle" font-family='"Liberation Sans", sans-serif' font-weight="bold" font-size="10">500</text>
<text x="497.9" y="315.9" text-anchor="middle" font-family='"Liberation Sans", sans-serif' font-weight="bold" font-size="10">520</text>
<text x="525.8" y="315.9" text-anchor="middle" font-family='"Liberation Sans", sans-serif' font-weight="bold" font-size="10">540</text>
<text x="553.6" y="315.9" text-anchor="middle" font-family='"Liberation Sans", sans-serif' font-weight="bold" font-size="10">560</text>
<text x="581.5" y="315.9" text-anchor="middle" font-family='"Liberation Sans", sans-serif' font-weight="bold" font-size="10">580</text>
<text x="609.5" y="315.9" text-anchor="middle" font-family='"Liberation Sans", sans-serif' font-weight="bold" font-size="10">600</text>
<text x="637.4" y="315.9" text-anchor="middle" font-family='"Liberation Sans", sans-serif' font-weight="bold" font-size="10">620</text>
<text x="665.2" y="315.9" text-anchor="middle" font-family='"Liberation Sans", sans-serif' font-weight="bold" font-size="10">640</text>
<text x="525.4" y="330.7" text-anchor="middle" font-family='"Liberation Sans", sans-serif' font-weight="bold" font-size="10.4">Wavelength (nm)</text>
<text transform="translate(379.2,165.8) rotate(-90)" text-anchor="middle" font-family='"Liberation Sans", sans-serif' font-weight="bold" font-size="13.8" textLength="104.5" lengthAdjust="spacingAndGlyphs">Absorbance (A)</text>
<text transform="translate(407.0,30.0) scale(0.95,1)" font-family='"Liberation Serif", serif' font-weight="bold" font-size="20">(b)</text>
<rect x="594.5" y="15" width="69.3" height="134.4" fill="#fff" stroke="#9a9a9a" stroke-width="1"/>
<line x1="602.9" x2="625.6" y1="26.1" y2="26.1" stroke="#2e2e2e" stroke-width="1.5"/>
<text transform="translate(629.4,30.8) scale(0.82,1)" font-family='"Liberation Sans", sans-serif' font-size="12.9" fill="#111">Blank</text>
<line x1="602.9" x2="625.6" y1="44.8" y2="44.8" stroke="#b4524f" stroke-width="1.5"/>
<text transform="translate(629.4,49.5) scale(0.82,1)" font-family='"Liberation Sans", sans-serif' font-size="12.9" fill="#111">10 min</text>
<line x1="602.9" x2="625.6" y1="63.5" y2="63.5" stroke="#414c9e" stroke-width="1.5"/>
<text transform="translate(629.4,68.2) scale(0.82,1)" font-family='"Liberation Sans", sans-serif' font-size="12.9" fill="#111">20 min</text>
<line x1="602.9" x2="625.6" y1="82.2" y2="82.2" stroke="#c455d2" stroke-width="1.5"/>
<text transform="translate(629.4,86.9) scale(0.82,1)" font-family='"Liberation Sans", sans-serif' font-size="12.9" fill="#111">30 min</text>
<line x1="602.9" x2="625.6" y1="100.9" y2="100.9" stroke="#3f8f4f" stroke-width="1.5"/>
<text transform="translate(629.4,105.6) scale(0.82,1)" font-family='"Liberation Sans", sans-serif' font-size="12.9" fill="#111">40 min</text>
<line x1="602.9" x2="625.6" y1="119.6" y2="119.6" stroke="#3f3f68" stroke-width="1.5"/>
<text transform="translate(629.4,124.3) scale(0.82,1)" font-family='"Liberation Sans", sans-serif' font-size="12.9" fill="#111">50 min</text>
<line x1="602.9" x2="625.6" y1="138.3" y2="138.3" stroke="#8a44c8" stroke-width="1.5"/>
<text transform="translate(629.4,143.0) scale(0.82,1)" font-family='"Liberation Sans", sans-serif' font-size="12.9" fill="#111">60 min</text>
<rect x="43.4" y="353.3" width="289.40000000000003" height="232.99999999999994" fill="#fff"/>
<path d="M43.4 353.3H332.8V586.3" stroke="#4a4a4a" stroke-width="1.15" fill="none"/>
<line x1="130.3" x2="130.3" y1="353.3" y2="486" stroke="#000" stroke-width="1.6"/>
<text x="72.0" y="395.5" font-family='"Liberation Serif", serif' font-weight="bold" font-style="italic" font-size="16" fill="#888" opacity="0.6">Dark</text>
<text x="70.8" y="394.7" font-family='"Liberation Serif", serif' font-weight="bold" font-style="italic" font-size="16" fill="#111">Dark</text>
<text x="72.0" y="414.2" font-family='"Liberation Serif", serif' font-weight="bold" font-style="italic" font-size="16" fill="#888" opacity="0.6">proc</text>
<text x="70.8" y="413.4" font-family='"Liberation Serif", serif' font-weight="bold" font-style="italic" font-size="16" fill="#111">proc</text>
<text x="72.0" y="432.9" font-family='"Liberation Serif", serif' font-weight="bold" font-style="italic" font-size="16" fill="#888" opacity="0.6">ess</text>
<text x="70.8" y="432.1" font-family='"Liberation Serif", serif' font-weight="bold" font-style="italic" font-size="16" fill="#111">ess</text>
<path d="M130.30 374.50L159.24 396.74L188.18 414.11L217.12 427.24L246.06 434.44L275.00 440.16L303.94 444.39" stroke="#000000" stroke-width="1.4" fill="none"/>
<path d="M130.30 374.50L159.24 386.57L188.18 396.10L217.12 404.58L246.06 411.99L275.00 415.80L303.94 417.71" stroke="#ff1a1a" stroke-width="1.4" fill="none"/>
<path d="M130.30 374.50L159.24 408.39L188.18 433.80L217.12 451.60L246.06 463.03L275.00 471.50L303.94 477.22" stroke="#1a1aff" stroke-width="1.4" fill="none"/>
<path d="M130.30 374.50L159.24 405.42L188.18 427.03L217.12 441.43L246.06 452.44L275.00 459.43L303.94 462.19" stroke="#ff1aff" stroke-width="1.4" fill="none"/>
<path d="M130.30 374.50L159.24 393.56L188.18 407.33L217.12 417.92L246.06 424.70L275.00 430.42L303.94 434.44" stroke="#1a8c1a" stroke-width="1.4" fill="none"/>
<path d="M130.30 374.50L159.24 454.98L188.18 516.41L217.12 547.75L246.06 568.51L275.00 573.59L303.94 580.37" stroke="#1a1a8c" stroke-width="1.4" fill="none"/>
<line x1="43.48" x2="130.30" y1="374.50" y2="374.50" stroke="#4a48c6" stroke-width="1.7"/>
<ellipse cx="43.48" cy="374.50" rx="3.1" ry="3.7" fill="#1c1c84"/>
<ellipse cx="72.42" cy="374.50" rx="3.1" ry="3.7" fill="#1c1c84"/>
<ellipse cx="101.36" cy="374.50" rx="3.1" ry="3.7" fill="#1c1c84"/>
<ellipse cx="130.30" cy="374.50" rx="3.1" ry="3.7" fill="#1c1c84"/>
<rect x="156.94" y="394.44" width="4.60" height="4.60" fill="#000000"/>
<rect x="185.88" y="411.81" width="4.60" height="4.60" fill="#000000"/>
<rect x="214.82" y="424.94" width="4.60" height="4.60" fill="#000000"/>
<rect x="243.76" y="432.14" width="4.60" height="4.60" fill="#000000"/>
<rect x="272.70" y="437.86" width="4.60" height="4.60" fill="#000000"/>
<rect x="301.64" y="442.09" width="4.60" height="4.60" fill="#000000"/>
<circle cx="159.24" cy="386.57" r="2.60" fill="#ff1a1a"/>
<circle cx="188.18" cy="396.10" r="2.60" fill="#ff1a1a"/>
<circle cx="217.12" cy="404.58" r="2.60" fill="#ff1a1a"/>
<circle cx="246.06" cy="411.99" r="2.60" fill="#ff1a1a"/>
<circle cx="275.00" cy="415.80" r="2.60" fill="#ff1a1a"/>
<circle cx="303.94" cy="417.71" r="2.60" fill="#ff1a1a"/>
<path d="M159.24 405.26L162.44 410.66L156.04 410.66Z" fill="#1a1aff"/>
<path d="M188.18 430.67L191.38 436.07L184.98 436.07Z" fill="#1a1aff"/>
<path d="M217.12 448.46L220.32 453.86L213.92 453.86Z" fill="#1a1aff"/>
<path d="M246.06 459.90L249.26 465.30L242.86 465.30Z" fill="#1a1aff"/>
<path d="M275.00 468.37L278.20 473.77L271.80 473.77Z" fill="#1a1aff"/>
<path d="M303.94 474.09L307.14 479.49L300.74 479.49Z" fill="#1a1aff"/>
<path d="M159.24 408.55L162.44 403.15L156.04 403.15Z" fill="#ff1aff"/>
<path d="M188.18 430.16L191.38 424.76L184.98 424.76Z" fill="#ff1aff"/>
<path d="M217.12 444.56L220.32 439.16L213.92 439.16Z" fill="#ff1aff"/>
<path d="M246.06 455.57L249.26 450.17L242.86 450.17Z" fill="#ff1aff"/>
<path d="M275.00 462.56L278.20 457.16L271.80 457.16Z" fill="#ff1aff"/>
<path d="M303.94 465.32L307.14 459.92L300.74 459.92Z" fill="#ff1aff"/>
<path d="M159.24 390.26L162.44 393.56L159.24 396.86L156.04 393.56Z" fill="#1a8c1a"/>
<path d="M188.18 404.03L191.38 407.33L188.18 410.63L184.98 407.33Z" fill="#1a8c1a"/>
<path d="M217.12 414.62L220.32 417.92L217.12 421.22L213.92 417.92Z" fill="#1a8c1a"/>
<path d="M246.06 421.40L249.26 424.70L246.06 428.00L242.86 424.70Z" fill="#1a8c1a"/>
<path d="M275.00 427.12L278.20 430.42L275.00 433.72L271.80 430.42Z" fill="#1a8c1a"/>
<path d="M303.94 431.14L307.14 434.44L303.94 437.74L300.74 434.44Z" fill="#1a8c1a"/>
<path d="M156.11 454.98L161.51 451.48L161.51 458.48Z" fill="#1a1a8c"/>
<path d="M185.05 516.41L190.45 512.91L190.45 519.91Z" fill="#1a1a8c"/>
<path d="M213.99 547.75L219.39 544.25L219.39 551.25Z" fill="#1a1a8c"/>
<path d="M242.93 568.51L248.33 565.01L248.33 572.01Z" fill="#1a1a8c"/>
<path d="M271.87 573.59L277.27 570.09L277.27 577.09Z" fill="#1a1a8c"/>
<path d="M300.81 580.37L306.21 576.87L306.21 583.87Z" fill="#1a1a8c"/>
<text transform="translate(250.9,395.9) scale(0.925,1)" font-family='"Liberation Serif", serif' font-weight="bold" font-style="italic" font-size="17.2" fill="#555" opacity="0.45">Photocatal</text>
<text transform="translate(249.6,394.6) scale(0.925,1)" font-family='"Liberation Serif", serif' font-weight="bold" font-style="italic" font-size="17.2" fill="#1975c4">Photocatal</text>
<text transform="translate(250.3,414.5) scale(0.925,1)" font-family='"Liberation Serif", serif' font-weight="bold" font-style="italic" font-size="17.2" fill="#555" opacity="0.45">ytic process</text>
<text transform="translate(249.0,413.2) scale(0.925,1)" font-family='"Liberation Serif", serif' font-weight="bold" font-style="italic" font-size="17.2" fill="#1975c4">ytic process</text>
<path d="M43.4 353.3V586.3H332.8" stroke="#2a2a2a" stroke-width="1.3" fill="none"/>
<path d="M43.4 586.30h-4M43.4 565.12h-2.5M43.4 543.94h-4M43.4 522.76h-2.5M43.4 501.58h-4M43.4 480.40h-2.5M43.4 459.22h-4M43.4 438.04h-2.5M43.4 416.86h-4M43.4 395.68h-2.5M43.4 374.50h-4M43.48 586.3v4.5M57.95 586.3v2.8M72.42 586.3v4.5M86.89 586.3v2.8M101.36 586.3v4.5M115.83 586.3v2.8M130.30 586.3v4.5M144.77 586.3v2.8M159.24 586.3v4.5M173.71 586.3v2.8M188.18 586.3v4.5M202.65 586.3v2.8M217.12 586.3v4.5M231.59 586.3v2.8M246.06 586.3v4.5M260.53 586.3v2.8M275.00 586.3v4.5M289.47 586.3v2.8M303.94 586.3v4.5M318.41 586.3v2.8M332.88 586.3v4.5" stroke="#222" stroke-width="1.1" fill="none"/>
<text transform="translate(36,589.9) scale(0.92,1)" text-anchor="end" font-family='"Liberation Sans", sans-serif' font-weight="bold" font-size="10.3">0.0</text>
<text transform="translate(36,547.5) scale(0.92,1)" text-anchor="end" font-family='"Liberation Sans", sans-serif' font-weight="bold" font-size="10.3">0.2</text>
<text transform="translate(36,505.2) scale(0.92,1)" text-anchor="end" font-family='"Liberation Sans", sans-serif' font-weight="bold" font-size="10.3">0.4</text>
<text transform="translate(36,462.8) scale(0.92,1)" text-anchor="end" font-family='"Liberation Sans", sans-serif' font-weight="bold" font-size="10.3">0.6</text>
<text transform="translate(36,420.5) scale(0.92,1)" text-anchor="end" font-family='"Liberation Sans", sans-serif' font-weight="bold" font-size="10.3">0.8</text>
<text transform="translate(36,378.1) scale(0.92,1)" text-anchor="end" font-family='"Liberation Sans", sans-serif' font-weight="bold" font-size="10.3">1.0</text>
<text transform="translate(43.2,601.9) scale(0.92,1)" text-anchor="middle" font-family='"Liberation Sans", sans-serif' font-weight="bold" font-size="10.3">-30</text>
<text transform="translate(72.1,601.9) scale(0.92,1)" text-anchor="middle" font-family='"Liberation Sans", sans-serif' font-weight="bold" font-size="10.3">-20</text>
<text transform="translate(101.1,601.9) scale(0.92,1)" text-anchor="middle" font-family='"Liberation Sans", sans-serif' font-weight="bold" font-size="10.3">-10</text>
<text transform="translate(130.0,601.9) scale(0.92,1)" text-anchor="middle" font-family='"Liberation Sans", sans-serif' font-weight="bold" font-size="10.3">0</text>
<text transform="translate(158.9,601.9) scale(0.92,1)" text-anchor="middle" font-family='"Liberation Sans", sans-serif' font-weight="bold" font-size="10.3">10</text>
<text transform="translate(187.9,601.9) scale(0.92,1)" text-anchor="middle" font-family='"Liberation Sans", sans-serif' font-weight="bold" font-size="10.3">20</text>
<text transform="translate(216.8,601.9) scale(0.92,1)" text-anchor="middle" font-family='"Liberation Sans", sans-serif' font-weight="bold" font-size="10.3">30</text>
<text transform="translate(245.8,601.9) scale(0.92,1)" text-anchor="middle" font-family='"Liberation Sans", sans-serif' font-weight="bold" font-size="10.3">40</text>
<text transform="translate(274.7,601.9) scale(0.92,1)" text-anchor="middle" font-family='"Liberation Sans", sans-serif' font-weight="bold" font-size="10.3">50</text>
<text transform="translate(303.6,601.9) scale(0.92,1)" text-anchor="middle" font-family='"Liberation Sans", sans-serif' font-weight="bold" font-size="10.3">60</text>
<text transform="translate(332.6,601.9) scale(0.92,1)" text-anchor="middle" font-family='"Liberation Sans", sans-serif' font-weight="bold" font-size="10.3">70</text>
<text x="188.5" y="621.8" text-anchor="middle" font-family='"Liberation Sans", sans-serif' font-weight="bold" font-size="11">Time (min)</text>
<text transform="translate(14.3,489.9) rotate(-90)" font-family='"Liberation Sans", sans-serif' font-weight="bold" font-size="11">C/C<tspan font-size="8" dy="3.4">0</tspan></text>
<text x="2.1" y="353.5" font-family='"Liberation Serif", serif' font-weight="bold" font-size="21">(c)</text>
<rect x="44.8" y="485.1" width="114.9" height="100.5" fill="#fff" stroke="#a0a0a0" stroke-width="1"/>
<line x1="46" x2="159" y1="585.2" y2="585.2" stroke="#ddd" stroke-width="1"/>
<line x1="52.3" x2="75" y1="496.5" y2="496.5" stroke="#000000" stroke-width="1.4"/>
<rect x="61.71" y="494.31" width="4.37" height="4.37" fill="#000000"/>
<text transform="translate(78,500.2) scale(0.95,1)" font-family='"Liberation Sans", sans-serif' font-size="10.6" fill="#222">CdS</text>
<line x1="52.3" x2="75" y1="510.0" y2="510.0" stroke="#ff1a1a" stroke-width="1.4"/>
<circle cx="63.90" cy="510.00" r="2.47" fill="#ff1a1a"/>
<text transform="translate(78,513.7) scale(0.95,1)" font-family='"Liberation Sans", sans-serif' font-size="10.6" fill="#222">CeO<tspan font-size="7.2" dy="3.0">2</tspan><tspan dy="-3.0"></tspan></text>
<line x1="52.3" x2="75" y1="526.7" y2="526.7" stroke="#1a1aff" stroke-width="1.4"/>
<path d="M63.90 523.72L66.94 528.85L60.86 528.85Z" fill="#1a1aff"/>
<text transform="translate(78,530.4) scale(0.95,1)" font-family='"Liberation Sans", sans-serif' font-size="10.6" fill="#222">CdS/CeO<tspan font-size="7.2" dy="3.0">2</tspan><tspan dy="-3.0"></tspan></text>
<line x1="52.3" x2="75" y1="543.1" y2="543.1" stroke="#ff1aff" stroke-width="1.4"/>
<path d="M63.90 546.08L66.94 540.95L60.86 540.95Z" fill="#ff1aff"/>
<text transform="translate(78,546.8) scale(0.95,1)" font-family='"Liberation Sans", sans-serif' font-size="10.6" fill="#222">CdS@H<tspan font-size="7.2" dy="3.0">2</tspan><tspan dy="-3.0">O</tspan><tspan font-size="7.2" dy="3.0">2</tspan><tspan dy="-3.0"></tspan></text>
<line x1="52.3" x2="75" y1="559.4" y2="559.4" stroke="#1a8c1a" stroke-width="1.4"/>
<path d="M63.90 556.26L66.94 559.40L63.90 562.53L60.86 559.40Z" fill="#1a8c1a"/>
<text transform="translate(78,563.1) scale(0.95,1)" font-family='"Liberation Sans", sans-serif' font-size="10.6" fill="#222">CeO<tspan font-size="7.2" dy="3.0">2</tspan><tspan dy="-3.0">@H</tspan><tspan font-size="7.2" dy="3.0">2</tspan><tspan dy="-3.0">O</tspan><tspan font-size="7.2" dy="3.0">2</tspan><tspan dy="-3.0"></tspan></text>
<line x1="52.3" x2="75" y1="575.8" y2="575.8" stroke="#1a1a8c" stroke-width="1.4"/>
<path d="M60.92 575.80L66.05 572.47L66.05 579.12Z" fill="#1a1a8c"/>
<text transform="translate(78,579.5) scale(0.95,1)" font-family='"Liberation Sans", sans-serif' font-size="10.6" fill="#222">CdS/CeO<tspan font-size="7.2" dy="3.0">2</tspan><tspan dy="-3.0">@H</tspan><tspan font-size="7.2" dy="3.0">2</tspan><tspan dy="-3.0">O</tspan><tspan font-size="7.2" dy="3.0">2</tspan><tspan dy="-3.0"></tspan></text>
<rect x="393.6" y="356.4" width="289.1" height="233.20000000000005" fill="#fff"/>
<path d="M393.6 356.4H682.7V589.6" stroke="#4a4a4a" stroke-width="1.15" fill="none"/>
<line x1="393.30" y1="589.40" x2="661.50" y2="562.91" stroke="#000000" stroke-width="1.5"/>
<line x1="393.30" y1="589.40" x2="661.50" y2="573.85" stroke="#ff1a1a" stroke-width="1.5"/>
<line x1="393.30" y1="589.40" x2="661.50" y2="545.29" stroke="#1a1aff" stroke-width="1.5"/>
<line x1="393.30" y1="589.40" x2="661.50" y2="553.30" stroke="#ff1aff" stroke-width="1.5"/>
<line x1="393.30" y1="589.40" x2="661.50" y2="567.10" stroke="#1a8c1a" stroke-width="1.5"/>
<line x1="393.30" y1="589.40" x2="661.50" y2="387.39" stroke="#1a1a8c" stroke-width="1.5"/>
<rect x="435.81" y="580.75" width="4.37" height="4.37" fill="#000000"/>
<rect x="480.51" y="575.16" width="4.37" height="4.37" fill="#000000"/>
<rect x="525.22" y="570.56" width="4.37" height="4.37" fill="#000000"/>
<rect x="569.92" y="567.82" width="4.37" height="4.37" fill="#000000"/>
<rect x="614.62" y="565.60" width="4.37" height="4.37" fill="#000000"/>
<rect x="659.32" y="563.92" width="4.37" height="4.37" fill="#000000"/>
<circle cx="438.00" cy="585.96" r="2.47" fill="#ff1a1a"/>
<circle cx="482.70" cy="583.17" r="2.47" fill="#ff1a1a"/>
<circle cx="527.40" cy="580.49" r="2.47" fill="#ff1a1a"/>
<circle cx="572.10" cy="578.04" r="2.47" fill="#ff1a1a"/>
<circle cx="616.80" cy="576.76" r="2.47" fill="#ff1a1a"/>
<circle cx="661.50" cy="576.06" r="2.47" fill="#ff1a1a"/>
<path d="M438.00 576.29L441.04 581.42L434.96 581.42Z" fill="#1a1aff"/>
<path d="M482.70 567.26L485.74 572.39L479.66 572.39Z" fill="#1a1aff"/>
<path d="M527.40 560.04L530.44 565.17L524.36 565.17Z" fill="#1a1aff"/>
<path d="M572.10 554.91L575.14 560.04L569.06 560.04Z" fill="#1a1aff"/>
<path d="M616.80 550.78L619.84 555.91L613.76 555.91Z" fill="#1a1aff"/>
<path d="M661.50 547.75L664.54 552.88L658.46 552.88Z" fill="#1a1aff"/>
<path d="M438.00 583.17L441.04 578.04L434.96 578.04Z" fill="#ff1aff"/>
<path d="M482.70 575.77L485.74 570.64L479.66 570.64Z" fill="#ff1aff"/>
<path d="M527.40 570.24L530.44 565.11L524.36 565.11Z" fill="#ff1aff"/>
<path d="M572.10 565.64L575.14 560.51L569.06 560.51Z" fill="#ff1aff"/>
<path d="M616.80 562.55L619.84 557.42L613.76 557.42Z" fill="#ff1aff"/>
<path d="M661.50 561.27L664.54 556.14L658.46 556.14Z" fill="#ff1aff"/>
<path d="M438.00 580.79L441.04 583.92L438.00 587.06L434.96 583.92Z" fill="#1a8c1a"/>
<path d="M482.70 576.48L485.74 579.61L482.70 582.75L479.66 579.61Z" fill="#1a8c1a"/>
<path d="M527.40 572.93L530.44 576.06L527.40 579.20L524.36 576.06Z" fill="#1a8c1a"/>
<path d="M572.10 570.54L575.14 573.67L572.10 576.81L569.06 573.67Z" fill="#1a8c1a"/>
<path d="M616.80 568.44L619.84 571.58L616.80 574.71L613.76 571.58Z" fill="#1a8c1a"/>
<path d="M661.50 566.87L664.54 570.00L661.50 573.14L658.46 570.00Z" fill="#1a8c1a"/>
<path d="M434.55 562.02L440.49 558.17L440.49 565.87Z" fill="#1a1a8c"/>
<path d="M479.25 525.32L485.19 521.47L485.19 529.17Z" fill="#1a1a8c"/>
<path d="M523.95 491.54L529.89 487.69L529.89 495.39Z" fill="#1a1a8c"/>
<path d="M568.65 447.27L574.59 443.42L574.59 451.12Z" fill="#1a1a8c"/>
<path d="M613.35 425.13L619.29 421.28L619.29 428.99Z" fill="#1a1a8c"/>
<path d="M658.05 382.61L663.99 378.76L663.99 386.46Z" fill="#1a1a8c"/>
<path d="M393.6 356.4V589.6H682.7" stroke="#3a3a3a" stroke-width="1.2" fill="none"/>
<path d="M393.6 589.40h-4M393.6 574.84h-2.5M393.6 560.27h-4M393.6 545.71h-2.5M393.6 531.15h-4M393.6 516.59h-2.5M393.6 502.02h-4M393.6 487.46h-2.5M393.6 472.90h-4M393.6 458.34h-2.5M393.6 443.77h-4M393.6 429.21h-2.5M393.6 414.65h-4M393.6 400.09h-2.5M393.6 385.52h-4M393.6 370.96h-2.5M393.6 356.40h-4M393.30 589.6v4.5M415.65 589.6v2.8M438.00 589.6v4.5M460.35 589.6v2.8M482.70 589.6v4.5M505.05 589.6v2.8M527.40 589.6v4.5M549.75 589.6v2.8M572.10 589.6v4.5M594.45 589.6v2.8M616.80 589.6v4.5M639.15 589.6v2.8M661.50 589.6v4.5M683.85 589.6v2.8" stroke="#222" stroke-width="1.1" fill="none"/>
<text transform="translate(386.5,592.7) scale(0.92,1)" text-anchor="end" font-family='"Liberation Sans", sans-serif' font-weight="bold" font-size="10.3">0.0</text>
<text transform="translate(386.5,563.6) scale(0.92,1)" text-anchor="end" font-family='"Liberation Sans", sans-serif' font-weight="bold" font-size="10.3">0.5</text>
<text transform="translate(386.5,534.4) scale(0.92,1)" text-anchor="end" font-family='"Liberation Sans", sans-serif' font-weight="bold" font-size="10.3">1.0</text>
<text transform="translate(386.5,505.3) scale(0.92,1)" text-anchor="end" font-family='"Liberation Sans", sans-serif' font-weight="bold" font-size="10.3">1.5</text>
<text transform="translate(386.5,476.2) scale(0.92,1)" text-anchor="end" font-family='"Liberation Sans", sans-serif' font-weight="bold" font-size="10.3">2.0</text>
<text transform="translate(386.5,447.1) scale(0.92,1)" text-anchor="end" font-family='"Liberation Sans", sans-serif' font-weight="bold" font-size="10.3">2.5</text>
<text transform="translate(386.5,417.9) scale(0.92,1)" text-anchor="end" font-family='"Liberation Sans", sans-serif' font-weight="bold" font-size="10.3">3.0</text>
<text transform="translate(386.5,388.8) scale(0.92,1)" text-anchor="end" font-family='"Liberation Sans", sans-serif' font-weight="bold" font-size="10.3">3.5</text>
<text transform="translate(386.5,359.7) scale(0.92,1)" text-anchor="end" font-family='"Liberation Sans", sans-serif' font-weight="bold" font-size="10.3">4.0</text>
<text transform="translate(393.3,604.5) scale(0.92,1)" text-anchor="middle" font-family='"Liberation Sans", sans-serif' font-weight="bold" font-size="10.3">0</text>
<text transform="translate(438.0,604.5) scale(0.92,1)" text-anchor="middle" font-family='"Liberation Sans", sans-serif' font-weight="bold" font-size="10.3">10</text>
<text transform="translate(482.7,604.5) scale(0.92,1)" text-anchor="middle" font-family='"Liberation Sans", sans-serif' font-weight="bold" font-size="10.3">20</text>
<text transform="translate(527.4,604.5) scale(0.92,1)" text-anchor="middle" font-family='"Liberation Sans", sans-serif' font-weight="bold" font-size="10.3">30</text>
<text transform="translate(572.1,604.5) scale(0.92,1)" text-anchor="middle" font-family='"Liberation Sans", sans-serif' font-weight="bold" font-size="10.3">40</text>
<text transform="translate(616.8,604.5) scale(0.92,1)" text-anchor="middle" font-family='"Liberation Sans", sans-serif' font-weight="bold" font-size="10.3">50</text>
<text transform="translate(661.5,604.5) scale(0.92,1)" text-anchor="middle" font-family='"Liberation Sans", sans-serif' font-weight="bold" font-size="10.3">60</text>
<text x="538.8" y="624.0" text-anchor="middle" font-family='"Liberation Sans", sans-serif' font-weight="bold" font-size="11">Time (min)</text>
<text transform="translate(364.9,492.5) rotate(-90)" font-family='"Liberation Sans", sans-serif' font-weight="bold" font-size="11.2">C/C<tspan font-size="8" dy="3.4">0</tspan></text>
<text x="348.0" y="354.2" font-family='"Liberation Serif", serif' font-weight="bold" font-size="19">(d)</text>
<rect x="395" y="358" width="113.1" height="108.2" fill="#fff" stroke="#a0a0a0" stroke-width="1"/>
<rect x="409.10" y="371.10" width="4.60" height="4.60" fill="#000000"/>
<text transform="translate(426,377.1) scale(0.95,1)" font-family='"Liberation Sans", sans-serif' font-size="10.6" fill="#222">CdS</text>
<circle cx="411.40" cy="386.80" r="2.60" fill="#ff1a1a"/>
<text transform="translate(426,390.5) scale(0.95,1)" font-family='"Liberation Sans", sans-serif' font-size="10.6" fill="#222">CeO<tspan font-size="7.2" dy="3.0">2</tspan><tspan dy="-3.0"></tspan></text>
<path d="M411.40 399.97L414.60 405.37L408.20 405.37Z" fill="#1a1aff"/>
<text transform="translate(426,406.8) scale(0.95,1)" font-family='"Liberation Sans", sans-serif' font-size="10.6" fill="#222">CdS/CeO<tspan font-size="7.2" dy="3.0">2</tspan><tspan dy="-3.0"></tspan></text>
<path d="M411.40 423.33L414.60 417.93L408.20 417.93Z" fill="#ff1aff"/>
<text transform="translate(426,423.9) scale(0.95,1)" font-family='"Liberation Sans", sans-serif' font-size="10.6" fill="#222">CdS@H<tspan font-size="7.2" dy="3.0">2</tspan><tspan dy="-3.0">O</tspan><tspan font-size="7.2" dy="3.0">2</tspan><tspan dy="-3.0"></tspan></text>
<path d="M411.40 433.30L414.60 436.60L411.40 439.90L408.20 436.60Z" fill="#1a8c1a"/>
<text transform="translate(426,440.3) scale(0.95,1)" font-family='"Liberation Sans", sans-serif' font-size="10.6" fill="#222">CeO<tspan font-size="7.2" dy="3.0">2</tspan><tspan dy="-3.0">@H</tspan><tspan font-size="7.2" dy="3.0">2</tspan><tspan dy="-3.0">O</tspan><tspan font-size="7.2" dy="3.0">2</tspan><tspan dy="-3.0"></tspan></text>
<path d="M408.27 452.80L413.67 449.30L413.67 456.30Z" fill="#1a1a8c"/>
<text transform="translate(426,456.5) scale(0.95,1)" font-family='"Liberation Sans", sans-serif' font-size="10.6" fill="#222">CdS/CeO<tspan font-size="7.2" dy="3.0">2</tspan><tspan dy="-3.0">@H</tspan><tspan font-size="7.2" dy="3.0">2</tspan><tspan dy="-3.0">O</tspan><tspan font-size="7.2" dy="3.0">2</tspan><tspan dy="-3.0"></tspan></text>
</svg>
</body></html>
